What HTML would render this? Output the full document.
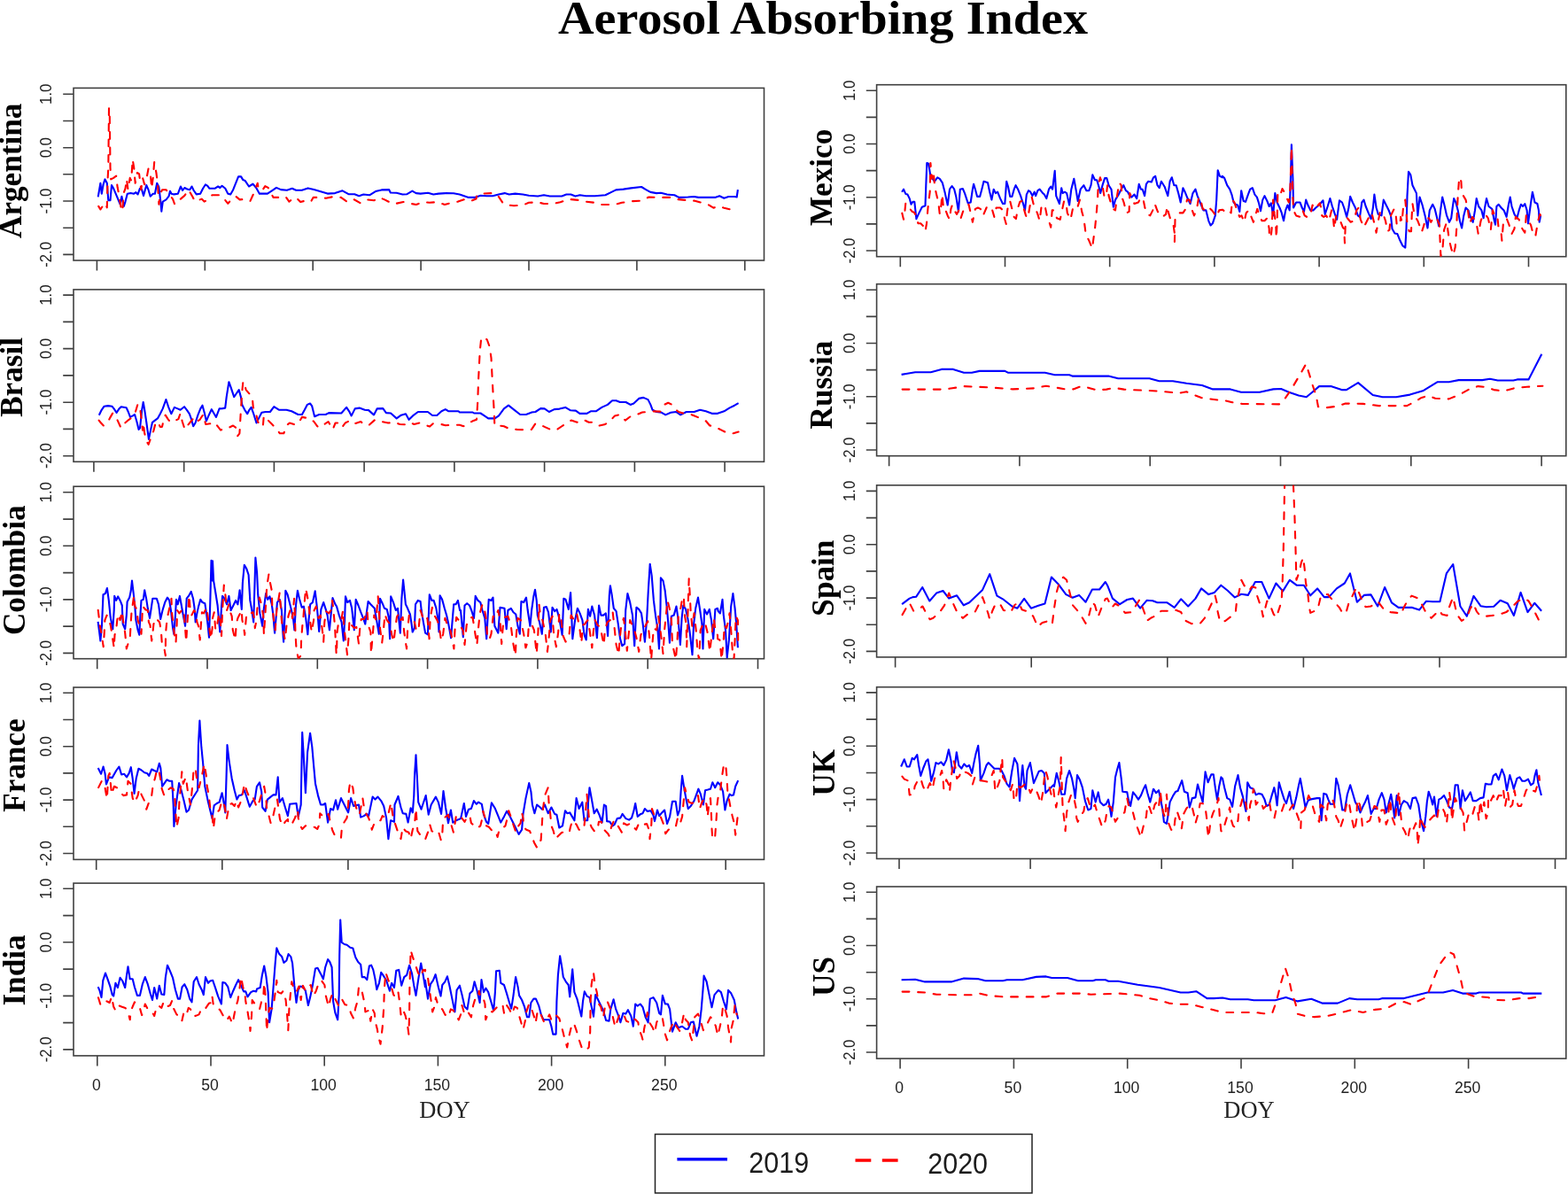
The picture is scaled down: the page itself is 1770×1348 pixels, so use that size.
<!DOCTYPE html>
<html lang="en">
<head>
<meta charset="utf-8">
<title>Aerosol Absorbing Index</title>
<style>
html,body{margin:0;padding:0;background:#fff;}
body{width:1770px;height:1348px;overflow:hidden;}
svg{display:block;}
.ax{stroke:#404040;stroke-width:1.6;fill:none;}
.tk{font-family:"Liberation Sans",Arial,sans-serif;font-size:16.7px;fill:#222;}
.tx{font-family:"Liberation Sans",Arial,sans-serif;font-size:17.6px;fill:#222;}
.cn{font-family:"Liberation Serif","Times New Roman",serif;font-weight:bold;font-size:35.2px;fill:#000;}
.ti{font-family:"Liberation Serif","Times New Roman",serif;font-weight:bold;font-size:52.3px;fill:#000;}
.doy{font-family:"Liberation Serif","Times New Roman",serif;font-size:26.5px;fill:#222;}
.lg{font-family:"Liberation Sans",Arial,sans-serif;font-size:33.2px;fill:#1c1c1c;}
.b{stroke:#0000ff;stroke-width:2.1;fill:none;stroke-linejoin:round;stroke-linecap:butt;}
.r{stroke:#ff0000;stroke-width:2.1;fill:none;stroke-linejoin:round;stroke-linecap:round;stroke-dasharray:7.8 9.8;stroke-dashoffset:-1;}
</style>
</head>
<body>
<svg width="1770" height="1348" viewBox="0 0 1770 1348">
<defs><filter id="soft" x="0" y="0" width="1770" height="1348" filterUnits="userSpaceOnUse" color-interpolation-filters="sRGB"><feGaussianBlur stdDeviation="0.45"/></filter></defs>
<rect x="0" y="0" width="1770" height="1348" fill="#ffffff"/>
<g filter="url(#soft)">
<text class="ti" x="929" y="38" text-anchor="middle" textLength="598" lengthAdjust="spacingAndGlyphs">Aerosol Absorbing Index</text>
<g>
<clipPath id="cArgentina"><rect x="83" y="99.4" width="779.5" height="194.6"/></clipPath>
<rect class="ax" x="83" y="99.4" width="779.5" height="194.6"/>
<path class="ax" d="M71.2 106.3H83M71.2 136.5H83M71.2 166.7H83M71.2 196.8H83M71.2 227H83M71.2 257.2H83M71.2 287.4H83M109.4 294V305.5M231.3 294V305.5M353.2 294V305.5M475.1 294V305.5M597 294V305.5M718.9 294V305.5M840.8 294V305.5"/>
<text class="tk" text-anchor="middle" transform="translate(58 106.3) scale(1.14 1) rotate(-90)">1.0</text>
<text class="tk" text-anchor="middle" transform="translate(58 166.7) scale(1.14 1) rotate(-90)">0.0</text>
<text class="tk" text-anchor="middle" transform="translate(58 227) scale(1.14 1) rotate(-90)">-1.0</text>
<text class="tk" text-anchor="middle" transform="translate(58 287.4) scale(1.14 1) rotate(-90)">-2.0</text>
<text class="cn" text-anchor="middle" transform="translate(24.4 192.8) rotate(-90)">Argentina</text>
<polyline class="b" clip-path="url(#cArgentina)" points="110.7,222.4 113.4,206.8 114.8,218.7 116.6,208.3 118.5,202.4 120.8,206.8 122.3,226.1 124.5,226.1 126,209.1 128.2,212.8 131.9,221.7 135.6,230.6 137.4,221.7 139.8,232.8 141.5,227.6 143.8,218.7 147.5,218 151.2,218.7 153.4,217.2 155.6,219.4 157.9,212.8 160.1,214.2 162,220.9 165.3,209.1 167.5,214.2 169.7,221.7 172.7,218.7 174.9,218.7 177.2,206.8 179.4,211.3 181.3,227.6 182.3,238.7 183.8,227.6 187.5,225.4 190.5,221.7 192,215.7 193.5,218.7 196.4,219.4 200.9,218.7 203.9,210.5 206.1,215 208.3,212 211.3,213.5 214.2,214.2 216.5,210.5 218.7,215 221.7,219.4 226.1,218.7 229.1,212.8 232,208.3 234.3,209.8 236.5,212.8 242.4,212.8 246.1,210.5 248.4,212 250.6,209.8 254.3,212.8 257.3,218.7 260.2,219.4 263.2,214.2 269.1,199.4 272.1,199.4 274.3,203.1 276.6,203.9 281,210.5 285.5,207.6 289.2,212 292.9,218.7 293.4,218.6 301.9,218.6 306.9,215.3 312,211.9 317.1,214.1 323.9,214.7 329.8,212.7 334.1,214.7 340.8,214.7 347.6,212.4 354.4,214.1 361.2,216.1 369.7,218.6 378.1,218.1 386.6,215.3 393.4,219.2 400.2,219.2 405.3,221.2 410.3,219.5 417.1,220.3 423.9,216.1 430.7,214.4 439.2,214.1 440.8,217.5 447.6,217.8 454.4,219.5 459.5,219.2 465.4,215.6 469.7,218.1 474.7,218.6 483.2,217.8 489.2,219.5 495.1,218.6 503.6,218.1 512,218.3 518.8,219.5 523.9,221.2 529,222.9 535.8,222.9 542.5,220.8 549.3,221.2 556.1,221.2 562.9,219.5 569.7,218.1 574.7,219.5 581.5,218.6 590.2,219.5 596.9,220.8 607.1,221.5 613.9,220.3 620.7,221.5 634.2,221.5 639.3,219.5 644.4,219.5 649.5,221.5 654.6,220.3 661.4,221.2 671.5,221.2 683.4,220.3 690.2,216.9 695.3,214.4 703.7,213.6 712.2,212.4 724.1,211 729.2,214.1 734.2,216.9 741,218.1 746.1,217.8 752.9,219.5 761.4,220.3 766.4,222.9 776.6,222.5 783.4,222 788.5,222.9 807.1,222.9 812.2,221.2 817.3,223.7 822.4,222 829.2,222 831.7,222.5 832.9,214.1"/>
<polyline class="r" clip-path="url(#cArgentina)" points="110.7,232 113.4,236.5 116.3,232 118.5,229.1 120.8,234.3 121.5,203.9 122.3,189 123,122.3 123.7,122.3 124.5,189 125.2,202.4 128.2,200.9 131.2,198.7 132.6,211.3 134.1,218.7 136.4,233.5 138.3,238.7 139.3,218.7 141.5,212.8 143,202.4 144.5,214.2 146.7,200.9 148.2,203.9 149.7,180.1 151.2,189 152.7,206.8 154.9,195 157.1,196.4 159.3,214.2 161.1,200.9 163.1,208.3 165.3,202.4 167.5,190.5 169.7,195 171.2,212.8 172.7,200.9 174.2,183.1 176.4,195 177.9,206.8 179.4,230.6 180.9,218.7 183.1,214.2 187.5,214.2 190.5,218.7 195,224.6 197.2,230.6 200.9,229.1 203.9,224.6 208.3,220.9 212.8,214.2 217.2,221.7 220.2,227.6 227.6,224.6 230.6,227.6 233.5,226.1 239.5,220.2 248.4,220.2 254.3,226.1 257.3,229.8 261.7,224.6 266.2,221.7 270.6,225.4 278,224.6 282.5,226.9 286.9,217.2 290.7,206.8 291.7,212.7 295.9,215.3 299.3,210.2 302.7,211.9 306.1,218.6 308.6,222.9 314.6,222.9 319.7,224.6 323.1,222.9 326.4,227.6 332.4,222.9 335.8,224.6 339.2,228 345.9,226.3 351,227.6 353.6,222.9 360.3,222.9 368,223.7 376.4,222 384.9,222.9 391.7,227.6 398.5,224.6 406.9,229.3 414.6,225.4 422.2,226.3 428.1,222.9 434.1,225.4 439.2,228 443.4,227.6 447.6,229.7 455.3,228 462.9,229.7 469.7,231 478.1,228 484.9,228.8 493.4,228 501.9,231 510.3,228.8 517.1,227.6 525.6,224.6 532.4,226.6 537.5,224.6 538.3,220.3 545.9,218.6 554.4,218.1 561.2,219.5 568,229.7 574.7,231.7 580,232.2 590.2,231.7 596.9,228.8 607.1,228.3 613.9,230 624.1,230 632.5,228.3 642.7,224.9 652.9,225.9 661.4,227.6 671.5,228.8 678.3,231 693.6,231 702,228.8 713.9,227.1 724.1,226.6 732.5,222.5 742.7,222.9 756.3,222.9 763.1,224.9 773.2,225.9 783.4,226.6 791.9,228.8 798.6,230.5 805.4,234.7 810.5,232.7 817.3,234.7 824.1,236.4 832.9,236.1"/>
</g>
<g>
<clipPath id="cBrasil"><rect x="83" y="326.9" width="779.5" height="194.4"/></clipPath>
<rect class="ax" x="83" y="326.9" width="779.5" height="194.4"/>
<path class="ax" d="M71.2 333.1H83M71.2 363.4H83M71.2 393.6H83M71.2 423.9H83M71.2 454.2H83M71.2 484.4H83M71.2 514.7H83M105.9 521.3V532.8M207.7 521.3V532.8M309.4 521.3V532.8M411.1 521.3V532.8M512.9 521.3V532.8M614.6 521.3V532.8M716.4 521.3V532.8M818.1 521.3V532.8"/>
<text class="tk" text-anchor="middle" transform="translate(58 333.1) scale(1.14 1) rotate(-90)">1.0</text>
<text class="tk" text-anchor="middle" transform="translate(58 393.6) scale(1.14 1) rotate(-90)">0.0</text>
<text class="tk" text-anchor="middle" transform="translate(58 454.2) scale(1.14 1) rotate(-90)">-1.0</text>
<text class="tk" text-anchor="middle" transform="translate(58 514.7) scale(1.14 1) rotate(-90)">-2.0</text>
<text class="cn" text-anchor="middle" transform="translate(25.2 425.9) rotate(-90)">Brasil</text>
<polyline class="b" clip-path="url(#cBrasil)" points="111.8,468.7 114.7,462.8 117.6,458.7 122,458.1 126.4,458.7 128.6,461.4 131.6,465.8 134.5,461.4 136.7,459.2 142.6,460.2 144.8,465 147,470.9 149.9,469.4 152.1,468 154.4,476 156.6,484.9 158,483.4 160.2,462.8 161.7,454 163.2,462.8 165.4,477.5 167.9,495.9 170.2,484.9 172,476.8 174.9,474.6 177.9,472.4 180.8,467.2 183.7,461.4 187.4,451.1 190.3,459.9 193.3,467.2 196.9,459.9 200.6,461.4 203.6,462.8 208,459.2 210.9,462.8 213.8,467.2 216,473.1 218.2,481.2 220.5,477.5 223.4,468.7 226.3,461.4 228.5,457.7 230.7,465.8 232.9,475.3 235.1,470.2 238.8,462.1 241.8,467.2 244,470.9 247.6,461.4 251.3,461.1 254.2,460.6 255.7,448.1 258.4,431.2 260.8,437.9 264.2,448.1 266.7,444.5 269.7,440.1 271.9,448.1 273.3,456.9 276.3,462.8 279.2,467.2 281.4,462.8 283.6,459.9 285.8,465.8 289.5,477.5 292.4,471.6 295.4,465.8 299.8,465 304.9,465 309.3,459.2 315.2,462.8 323.3,462.8 329.2,464.3 336.5,468 340.9,468 343.8,462.8 346.8,456.9 350,455.5 352.2,458.4 355.1,470.2 360.3,468 367.6,468 371.3,466.1 385.3,466.5 391.1,459.9 394.1,464.3 396.7,469.4 400.7,461.4 405.8,460.6 411.7,462.8 416.1,463.1 422,468.4 425.6,461.4 432.3,461.1 435.9,466.1 441.1,466.5 447.7,472.4 452.8,468.7 458,467.2 461.6,473.8 466,469.4 471.9,465 482.9,465 488.1,469 493.2,469 498.4,464.3 502.8,462.1 506.4,464.3 517.5,464.3 518.9,465.5 533.6,465.5 535.1,466.5 542.4,466.5 546.8,469.4 551.2,472.4 558.6,472.4 563,469.4 568.9,461.4 574,457.7 580.6,462.8 587.2,468 593.8,468 599.7,465.8 600,465.5 604.4,465 610.3,461.1 614.7,461.4 619.8,465 625.7,462.1 631.6,461.6 638.2,459.9 644.1,463.3 649.9,463.6 654.4,466.9 662.4,466.9 666.8,464.3 672.7,464.3 679.3,459.9 685.9,456.9 691.1,452.2 695.5,452.2 699.9,454 706.5,454 711.6,456.9 715.3,455.5 721.2,449.9 726.3,448.9 731.5,451.1 734.4,456.9 736.6,462.8 741,465 746.9,465.8 751.3,468.4 757.2,465.8 763.1,465 768.2,468.4 774.8,465 783.6,465 790.2,462.8 796.8,464.3 804.2,466.9 809.3,466.9 817.4,464.3 823.3,460.6 829.2,457.7 833.6,455.2"/>
<polyline class="r" clip-path="url(#cBrasil)" points="111,473.8 114,477.5 116.9,480.5 122,476 124.2,471.6 127.2,466.5 129.4,468.7 132.3,473.8 136.7,483.4 141.1,477.5 145.5,473.8 149.9,470.9 152.9,465 155.5,456.2 158,459.9 159.5,471.6 161,485.6 161.7,477.5 163.2,489.3 165.4,498.1 167.6,501.8 170.5,493.7 173.4,486.3 175.6,477.5 177.9,476 180.8,481.9 183,481.9 185.2,471.6 186.7,468.7 189.6,473.1 192.5,476.8 196.9,475.3 201.4,473.1 203.6,466.5 205.8,476 208.7,484.9 211.6,480.5 215.3,476 219,471.6 221.9,476 225.6,473.8 229.3,468 232.2,479 238.1,478.2 242.5,476.8 246.2,481.9 249.1,485.6 252.8,484.1 258.6,482.7 263.1,480.5 266,482.7 268.2,492.2 270.4,489.3 271.1,477.5 271.9,462.8 273.3,442.3 274.4,430.5 276.3,434.9 277.7,440.1 282.1,445.2 284.8,448.1 285.8,459.9 288.8,465.8 291,476 293.9,480.5 296.8,481.9 297.6,471.6 300.5,469.4 302.7,474.6 307.1,479 311.5,483.4 315.9,489.3 320.3,489.3 323.3,480.5 326.9,477.5 333.6,479.7 338,476 340.9,470.9 349.7,472.4 350,472.4 354.4,476 358.1,481.2 360.3,482.7 364,480.5 370.6,476 375.7,484.9 378.6,477.5 382.3,477.5 386,482.7 389.7,477.5 395.5,474.6 400.7,478.2 407.3,476 411,479.7 416.8,479.7 423.4,473.8 430.8,476 438.1,477.5 445.5,476.8 451.4,479 457.2,479.3 462.4,476.8 467.5,479 473.4,477.5 477.8,479 485.1,481.6 488.8,478.2 496.9,478.7 502.8,480.2 511.6,479.7 518.9,479.7 523.3,481.2 527.7,478.7 533.6,475.3 538,473.8 539.2,454 540.2,426.1 541.7,396.7 543.2,382 546.8,380.6 549.8,383.5 552.7,391.6 554.5,404.1 555.6,426.1 556.8,448.1 557.9,467.2 558.3,480.5 563,480.5 568.9,481.2 574.7,484.1 583.6,484.9 590.9,485.2 598.2,484.9 600,484.9 604.4,478.2 608.8,479 614.7,481.9 621.3,484.9 627.9,485.6 635.3,480.5 644.8,474.6 651.4,476.8 658.8,473.8 664.6,476.8 670.5,476.8 676.4,480.5 682.3,479.3 688.1,476 694,469.4 699.9,468 705.8,474.6 711.6,470.2 717.5,468.7 724.9,465.5 730.7,465 736.6,464.3 745.4,464.6 749.8,456.9 754.2,454.7 758.6,456.9 761.6,461.4 766,465 771.1,466.5 776.3,466.5 782.1,468.7 791,472.4 796.8,475.3 801.2,480.5 805.6,481.2 810.1,483.4 814.5,485.6 821.8,489.3 827.7,489.3 833.6,487.5"/>
</g>
<g>
<clipPath id="cColombia"><rect x="83" y="549.2" width="779.5" height="194.5"/></clipPath>
<rect class="ax" x="83" y="549.2" width="779.5" height="194.5"/>
<path class="ax" d="M71.2 555.8H83M71.2 586.1H83M71.2 616.3H83M71.2 646.6H83M71.2 676.9H83M71.2 707.1H83M71.2 737.4H83M109.7 743.7V755.2M234 743.7V755.2M358.3 743.7V755.2M482.6 743.7V755.2M606.9 743.7V755.2M731.2 743.7V755.2M855.5 743.7V755.2"/>
<text class="tk" text-anchor="middle" transform="translate(58 555.8) scale(1.14 1) rotate(-90)">1.0</text>
<text class="tk" text-anchor="middle" transform="translate(58 616.3) scale(1.14 1) rotate(-90)">0.0</text>
<text class="tk" text-anchor="middle" transform="translate(58 676.9) scale(1.14 1) rotate(-90)">-1.0</text>
<text class="tk" text-anchor="middle" transform="translate(58 737.4) scale(1.14 1) rotate(-90)">-2.0</text>
<text class="cn" text-anchor="middle" transform="translate(28.1 643.8) rotate(-90)">Colombia</text>
<polyline class="b" clip-path="url(#cColombia)" points="110.6,701.8 112,712.4 113.4,723.5 115,705.7 116.5,671.2 118.9,670.1 120.9,664 122.8,677.9 124.7,696.8 127.3,710.2 128.7,689 129.2,672.9 131.2,677.9 133.2,673.4 135.6,677.9 137.8,683.5 138.7,704.6 141.2,710.2 142.8,694.6 143.6,679.6 146.2,674.6 147.8,666.8 149,655.6 150.6,669 152.3,684.6 153.4,700.1 155.6,711.3 157.3,716.8 158.4,694.6 159.5,677.9 161.8,676.8 163.2,666.2 165.1,675.7 166.8,686.8 169,697.9 170.7,686.8 172.3,675.7 176.8,675.7 179,682.3 181.2,699 183.5,689 186.2,680.1 189,674.6 191.2,677.9 192.9,689 195.1,709.1 196.3,715.7 197.9,695.7 199,676.8 200.7,682.3 202.9,672.9 204.6,682.3 206.8,694.6 209.1,706.8 210.7,675.7 212.9,672.9 215.7,667.9 218,675.7 219.6,686.8 220.7,702.4 222.4,692.4 224.1,684.6 226.3,676.8 228.5,680.1 231.3,681.2 233,692.4 234.6,705.7 236,719.6 237.4,675.7 238.5,632.8 240,655.6 240,633.4 241.1,655.6 243.3,669 245.6,683.5 248.3,713.5 250,685.7 251.1,672.9 253.4,675.7 256.1,682.3 258.4,672.9 260.6,689 263.4,683.5 266.1,677.9 268.4,682.3 270.6,666.2 272.8,687.9 273.9,657.9 275.8,637.8 278.4,642.3 280.6,649 282.3,677.9 284.3,689 286.2,702.4 287.3,666.8 288.4,629.5 290.1,646.7 291.2,671.2 293.4,692.4 296.2,706.8 297.9,686.8 300.1,670.1 302.3,676.8 304.5,673.4 306.8,682.3 308.4,694.6 310.1,714.6 311.8,694.6 312.9,680.1 315.7,676.8 317.9,689 319,709.1 320.1,724.6 321.8,689 322.3,666.8 324.6,671.2 326.8,680.1 329,689 331.2,700.1 332.4,711.3 334,683.5 335.9,666.8 337.9,675.7 340.7,685.7 342.9,684.6 345.2,697.9 347.4,716.3 348.5,700.1 350.2,682.3 352.9,680.1 355.7,667.3 358,686.8 360.2,712.9 362.4,687.9 365.2,680.1 367.4,686.8 369.6,694.6 371.9,711.3 373.5,694.6 375.5,675.1 378.5,682.3 380,684.6 382.8,694.6 385.6,702.4 387.8,723.5 389.1,700.1 390,673.4 392.2,680.1 395,677.9 397.2,686.8 399.8,711.3 401.7,676.8 404.5,683.5 407.3,691.2 410,697.9 412.3,704.6 413.9,691.2 415.6,679 418.4,682.3 420.6,684.6 422.8,686.8 425.1,700.1 427.8,715.7 429,675.7 431.7,681.2 434,686.8 436.8,687.9 439,697.9 440.1,721.3 441.2,673.4 444,680.1 446.8,689 449,686.8 451.8,714.6 453.4,675.7 455.1,654.5 456.8,671.2 457.9,682.3 460.1,686.8 462.9,693.5 464.6,704.6 465.7,713.5 467.9,709.1 469,682.3 471.8,677.9 474.6,679 475.7,689 477.9,702.4 480.1,714.6 482.9,716.3 484,691.2 484.8,671.2 487.4,677.9 489.6,677.9 492.4,686.8 494.6,700.1 495.5,713.5 496.6,672.3 499.1,676.8 501.8,686.8 504.1,694.6 506.3,704.6 509.1,720.2 510.7,700.1 512.2,682.3 514.6,682.3 516.9,677.9 519.1,689 520,689 522.8,719.1 524.5,683.5 527.2,681.2 530,683.5 532.2,689 535,697.9 536.7,672.9 539.5,677.9 542.3,680.1 544.5,689 547.3,697.9 549.2,721.3 551.7,676.8 554.5,677.9 556.5,674.6 558.4,706.8 562.3,714.6 564.5,685.7 566.7,686.2 569.5,686.8 571.7,710.2 573.4,689 576.8,686.8 579.5,691.2 582.3,693.5 584.5,706.8 586.8,715.7 588.4,679 591.2,680.1 594,674.6 595.7,689 598.4,706.8 600.1,689 602.3,673.4 604,665.7 605.7,677.9 606.8,694.6 609,702.4 611.8,715.7 614,685.7 616.8,685.1 619,691.2 621.8,713.5 623.5,685.7 626.3,690.1 628.5,687.9 631.3,697.9 634.6,716.8 636.3,675.7 638.5,676.8 641.8,687.9 644.1,669 645.2,694.6 646.3,721.3 649.1,700.1 651.9,686.8 654.6,692.4 657.4,700.1 659.1,713.5 660,718 661.7,722.4 663.9,687.9 666.1,695.7 668.3,684.6 671.1,694.6 673.9,720.2 676.1,683.5 678.4,694.6 681.1,694.6 683.9,692.4 686.1,718 687.8,672.3 688.9,661.2 690.6,671.2 692.8,686.8 695.6,690.1 697.8,704.6 700.1,721.3 702.3,729.1 705.1,726.9 706.2,689 708.4,670.1 711.2,680.1 714,694.6 716.2,729.1 718.4,685.7 721.2,687.9 724,692.4 725.7,704.6 727.9,724.6 730.1,700.1 731.8,666.8 733.7,636.7 735.7,650.1 737.9,677.9 740.1,695.7 742.3,709.1 744,732.4 745.5,686.8 745.9,652.3 748.5,655.6 750.7,666.8 752.9,686.8 754.6,706.8 755.9,725.7 757.9,695.7 760.7,694.6 763.5,684.6 765.7,700.1 767.9,728 769.6,697.9 771.3,683.5 774.1,687.9 776.3,697.9 778.5,712.4 781.5,739.1 783,705.7 785.2,686.8 788,674.6 790.2,689 792.4,704.6 793.5,732.4 795.2,687.9 798,693.5 800.8,687.9 803,700.1 805.2,721.3 807.4,687.9 810,686.8 810.7,690.1 812.9,692.4 815.5,676.8 816.8,694.6 819,711.3 820.7,742.4 822.9,722.4 825.2,684.6 827.4,670.1 829.6,686.8 831.3,705.7 832.9,731.3"/>
<polyline class="r" clip-path="url(#cColombia)" points="110.6,687.9 111.7,696.8 112.8,706.8 114.5,714.6 116.7,730.2 117.8,713.5 118.4,700.1 120.6,694.6 122.8,699 125,706.8 126.7,718 128.7,731.3 129.5,716.8 131.2,710.2 132.3,700.1 133.4,693.5 135.6,700.1 137.8,690.1 138.9,700.1 141.2,714.6 142.8,732.4 144.5,726.9 146.7,721.3 147.6,704.6 148.4,692.4 151.2,672.3 152.3,684.6 154.5,687.9 155.6,700.1 157.3,705.7 159.5,715.7 160.6,693.5 161.2,684.6 164.5,688.5 166.8,689 167.9,702.4 169.5,705.7 171.2,723.5 172.3,715.7 173.4,704.6 175.7,697.9 177.9,700.1 180.1,702.4 181.8,711.3 182.9,728 185.7,733.5 186.8,740.2 187,715.7 187.9,705.7 189,696.8 191.2,686.8 193.5,675.7 194,691.2 194.6,696.8 195.7,706.8 196.8,715.7 198.5,725.7 199.6,704.6 200.1,689 202.4,692.4 205.2,689 207.4,687.9 208.5,702.4 210.2,724.6 211.3,705.7 212.4,689 213.5,672.3 214.6,686.8 216.3,694.6 219.1,689 221.3,692.4 222.4,702.4 224.1,706.8 225.7,722.4 226.9,704.6 228,691.2 230.2,692.4 233,685.7 234.6,695.7 236.3,709.1 238,721.3 239.7,709.1 240,697.9 241.7,691.2 243.3,711.3 245,706.8 247.2,692.4 248.9,702.4 250,718 251.1,689 252.8,660.6 254.5,672.3 256.1,689 258.4,682.3 260,691.2 261.7,695.7 262.8,711.3 265.6,722.4 266.7,704.6 268.4,697.9 270.6,693.5 272.8,689 273.4,700.1 275.1,706.8 276.2,716.8 277.8,697.9 278.9,692.4 282.3,692.9 285.6,691.2 287.3,700.1 287.8,709.1 289.5,700.1 290.6,684.6 292.9,674.6 295.1,682.3 297.3,695.7 297.9,716.8 299.5,692.4 301.2,662.3 303.4,648.4 304.5,655.6 306.8,666.8 307.3,684.6 309,700.1 310.7,711.3 312.3,689 315.7,669 316.8,684.6 317.9,700.1 319,709.1 321.8,722.4 323.5,705.7 325.7,694.6 327.9,687.9 330.1,697.9 332.1,675.7 332.9,694.6 333.5,715.7 334.6,733.5 336.8,743.5 339.6,740.2 340.1,722.4 341.3,706.8 342.4,697.9 343.5,682.3 345.2,664.5 347.4,675.7 349.1,689 350.2,702.4 351.8,713.5 354.1,700.1 354.6,689 356.8,684.6 359.6,697.9 361.8,694.6 364.1,713.5 365.2,724.6 366.3,702.4 368,690.1 371.3,692.4 373.5,689 375.2,677.9 376.9,694.6 378,706.8 379.7,739.1 380,738 380.6,713.5 382.2,702.4 385,701.3 387.2,689 388.3,706.8 390.6,726.9 392,739.1 393.4,721.3 394.5,700.1 396.7,705.7 400,709.1 402.3,707.9 405,726.9 406.1,711.3 407.8,699 411.2,699 414.5,689 415.6,705.7 418.4,713.5 418.9,738 421.2,711.3 422.3,694.6 424.5,700.1 426.7,673.4 429,709.1 431.2,725.7 432.9,711.3 434.5,693.5 436.8,700.1 440.1,704.6 442.3,716.8 444.5,724.6 446.2,709.1 447.9,696.8 450.1,692.4 452.3,700.1 454.6,696.8 456.2,713.5 459,732.4 460.1,711.3 461.8,694.6 464.6,697.9 467.9,702.4 470.1,712.4 472.4,711.3 474.6,689 476.8,695.7 479.6,701.3 482.4,697.9 484.6,721.3 485.7,697.9 487.9,685.7 490.2,694.6 493.5,700.1 495.7,706.8 498,723.5 500.2,715.7 502.4,697.9 504.6,704.6 507.4,706.8 510.2,720.2 512.4,732.4 513.5,711.3 515.2,696.8 518.5,701.3 520,706.8 522.8,712.4 524.5,728 526.7,705.7 530,697.9 533.4,696.8 535,705.7 536.1,713.5 538.4,728 540,709.1 541.7,692.4 544.5,682.3 546.7,686.8 548.9,700.1 550,716.8 552.3,722.4 554.5,715.7 556.7,695.7 558.9,697.9 562.3,689 564.5,700.1 566.2,726.9 567.8,706.8 570.1,696.8 573.4,695.7 576.8,706.8 579,724.6 581.8,740.2 582.9,715.7 584.5,697.9 587.9,700.1 591.2,715.7 593.4,731.3 595.7,724.6 596.8,706.8 600.1,704.6 602.9,711.3 605.7,738 607.4,714.6 608.5,682.3 610.1,695.7 612.4,700.1 615.7,715.7 617.9,735.8 619.6,720.2 621.3,700.1 623.5,695.7 625.2,716.8 627.9,730.2 630.2,713.5 631.3,692.4 633.5,700.1 635.7,718 638.5,724.6 642.4,718 644.6,694.6 648,700.1 651.3,693.5 654.6,711.3 656.3,725.7 658,705.7 660,704.6 663.3,700.1 665.6,711.3 668.3,731.3 670,711.3 671.7,700.1 674.5,705.7 677.8,707.9 680,720.2 681.7,728 682.8,711.3 685.6,702.4 688.9,700.1 691.7,691.2 693.4,706.8 695.6,728 698.4,739.1 699.5,722.4 701.2,706.8 704,697.9 705.6,711.3 707.8,734.6 709.5,718 711.2,700.1 714,706.8 716.2,711.3 719,722.4 721.2,735.8 723.4,716.8 725.7,710.2 728.4,706.8 731.2,701.3 732.9,716.8 735.1,744.7 736.8,722.4 737.9,709.1 741.2,711.3 743.2,695.7 745.1,709.1 746.8,722.4 748.5,738 750.1,711.3 751.8,694.6 753.5,677.9 755.7,686.8 757.9,700.1 759,726.9 762.9,744.7 764.6,722.4 765.7,695.7 768.5,685.7 770.2,675.7 771.8,673.4 772.9,694.6 774.6,704.6 775.2,730.2 776.3,700.1 776.8,680.1 777.7,653.4 778.8,672.3 779.6,689 781.3,706.8 783.5,692.4 785.7,711.3 787.4,734.6 789.1,744.7 790.7,711.3 793.5,704.6 795.8,702.4 798.5,713.5 801.3,735.8 803.5,715.7 805.8,697.9 808,715.7 810,716.8 810.1,721.3 812.4,722.4 814.6,744.7 816.8,722.4 817.9,705.7 820.1,709.1 822.4,700.1 823.5,692.4 825.2,711.3 826.8,733.5 828.5,744.7 829.6,722.4 830.7,695.7 832.9,700.1 833.1,711.3 833.2,729.1"/>
</g>
<g>
<clipPath id="cFrance"><rect x="83" y="776" width="779.5" height="194.4"/></clipPath>
<rect class="ax" x="83" y="776" width="779.5" height="194.4"/>
<path class="ax" d="M71.2 782.3H83M71.2 812.5H83M71.2 842.7H83M71.2 872.9H83M71.2 903.1H83M71.2 933.3H83M71.2 963.5H83M108.7 970.4V981.9M250.8 970.4V981.9M392.9 970.4V981.9M535 970.4V981.9M677.1 970.4V981.9M819.2 970.4V981.9"/>
<text class="tk" text-anchor="middle" transform="translate(58 782.3) scale(1.14 1) rotate(-90)">1.0</text>
<text class="tk" text-anchor="middle" transform="translate(58 842.7) scale(1.14 1) rotate(-90)">0.0</text>
<text class="tk" text-anchor="middle" transform="translate(58 903.1) scale(1.14 1) rotate(-90)">-1.0</text>
<text class="tk" text-anchor="middle" transform="translate(58 963.5) scale(1.14 1) rotate(-90)">-2.0</text>
<text class="cn" text-anchor="middle" transform="translate(28.1 864.1) rotate(-90)">France</text>
<polyline class="b" clip-path="url(#cFrance)" points="110.7,867 114.1,873.7 116.6,865.5 118.5,872.9 120,885.5 123,877.4 126.7,878.1 131.2,870 134.4,865.5 137.1,874.4 140.1,873.7 143,877.4 145.7,872.9 147.8,866.2 149.7,878.9 151.6,895.9 153.7,878.9 156.4,867.7 159.3,869.2 163.1,872.2 166,872.9 168.2,875.9 171.2,868.5 174.2,870 177.2,871.4 179.8,861.8 181.3,867 183.1,887.8 188.3,880.3 191.2,881.8 194.2,881.8 195.7,908.5 196.4,933 198.7,908.5 202.1,884.1 204.6,892.2 207.6,904.1 210.5,916.7 213.1,914.5 216.5,902.6 220.2,896.7 223.1,892.2 223.9,841.8 225.4,813.6 227.3,843.2 229.1,861.1 231.3,887.8 235,905.6 237.2,914.5 239.5,924.1 241.7,909.3 244.7,907 247.6,905.6 250.6,895.2 252.8,907 254.3,917.4 255.5,878.9 256.5,841 258.5,858.1 261.7,878.9 264.7,892.2 267.4,902.6 269.9,898.1 272.8,897.4 275.8,892.2 278.8,901.1 281.8,910.8 285.5,904.1 287.7,902.6 289.9,887.8 290,887.8 293,883.3 295.2,893.7 296.2,911.5 299.6,915.9 301.9,902.6 305.6,899.6 308.5,897.4 311.5,897.4 313.7,877.4 315.5,905.6 318.9,901.1 321.9,911.5 324.9,921.1 327.1,907.8 334.5,907 336.7,921.9 339.7,908.5 340.4,868.5 341.2,826.9 342.7,852.2 344.9,895.2 347.1,849.2 350.1,827.7 352.3,843.2 354.1,864 356,884.8 359,898.1 362,908.5 364.9,908.5 367.2,907 370.1,928.6 373.1,913 376.1,914.5 379,903.3 381.2,913.7 385,901.1 387.9,907 390.9,913 393.1,917.4 396.1,901.1 399.1,910 402,909.3 405,908.5 407.2,922.6 410.9,921.1 413.9,918.9 416.1,921.1 420.6,899.6 423.5,902.6 426.5,899.6 430.2,904.1 433.2,910 436.1,923.4 438.4,947.1 441,926.3 445,927.8 445.5,908.5 449.5,898.9 452.5,911.5 454.7,918.2 458.4,918.9 460.6,928.6 463.6,912.2 465.8,917.4 467.3,898.1 468,875.9 469.5,852.2 471,880.3 472.2,905.6 475.5,913.7 477.7,907 480.7,898.1 483.7,919.7 486.7,908.5 491.9,899.6 494.8,905.6 498.1,918.9 500.5,893 503,911.5 506,929.3 508.9,914.5 511.2,928.6 514.9,926.3 520.1,924.1 523.8,907 526,921.9 529,913.7 531.9,913 534.9,904.1 537.9,907.8 540.1,905.6 543.8,907.8 546,919.7 549,927.8 551.2,930 554.9,906.3 558.6,912.2 562.3,921.1 565.3,928.6 569,921.9 572,915.9 575,920.4 578.7,927.8 582.4,935.2 585.6,941.9 589.1,936.7 590.5,918.9 593.5,901.1 597.2,884.1 599.4,893.7 600.9,908.5 603.4,918.2 606.1,908.5 609.8,911.5 612,913.7 615,908.5 618.7,918.2 622.4,911.5 626.1,918.9 628.4,919.7 631.3,934.5 635,932.3 638,915.2 640.2,918.2 643.2,917.4 645.4,921.1 648.4,926.3 650.6,901.1 653.6,913 657.3,905.6 659.5,926.3 663.2,926.3 664,905.6 665.5,889.2 667.7,901.1 670.7,918.2 673.7,913.7 676.7,920.4 679.6,928.6 681.9,908.5 684.1,910 685.1,927.1 688.5,927.8 691.5,932.3 693.7,930.8 696.7,924.1 700.4,923.4 702.6,918.9 706.4,924.1 710.1,925.6 713,923.4 715.3,915.9 717.2,907 719.7,921.9 723.4,918.9 725.6,918.2 727.9,913 730.8,915.9 734.5,915.2 737.5,920.4 739,927.1 742,914.5 744.2,921.1 747.2,917.4 750.1,914.5 753.1,930 756.1,921.9 759,904.8 762.7,904.8 765,920.4 767.2,914.5 768.7,892.2 770.1,875.9 772.4,890.7 774.6,902.6 776.8,913 779.8,910 783.5,904.1 785.7,898.1 788.4,890.7 790.9,896.7 793.9,908.5 796.1,892.2 799.1,891.5 802,890.7 804.3,883.3 807.2,889.2 810.2,883.3 813.2,886.3 816.1,893.7 818.4,914.5 820.6,904.1 823.6,896.7 825.8,898.1 828,897.4 830.2,887.8 833.2,881.1"/>
<polyline class="r" clip-path="url(#cFrance)" points="110.7,890 114.8,881.8 117.8,884.8 119.3,893.7 120.8,901.9 122.3,875.9 123.7,872.9 125.2,887.8 126,896.7 128.9,887.8 131.9,889.2 134.9,893.7 139.3,898.1 143,897.4 144.5,881.8 147.5,884.8 149.7,901.1 151.9,906.3 155.6,898.1 157.1,890.7 160.1,898.1 163.8,905.6 165.3,913.7 168.2,905.6 171.2,898.1 172.7,886.3 174.9,878.9 177.2,868.5 179.4,870 181.3,880.3 182.3,889.2 185.3,898.1 189,892.2 192.7,889.2 195.7,890.7 197.2,898.1 197.9,911.5 199.4,933.8 201.6,923.4 202.4,905.6 203.9,889.2 205.3,871.4 206.8,884.8 209.8,877.4 212,893.7 215,908.5 217.2,887.8 218.7,867 220.9,870 222.4,881.8 224.6,889.2 227.6,877.4 230.6,862.5 232.8,875.9 233.5,886.3 235.8,898.1 237.2,911.5 239.5,920.4 240.9,935.2 242.4,923.4 244.7,917.4 247.6,914.5 250.6,904.1 253.6,910 255.8,924.9 258.8,908.5 261.7,907 264.7,910 266.9,904.1 269.1,911.5 272.8,902.6 275.8,884.8 278.8,893.7 281.8,901.1 285.5,899.6 287.7,905.6 289.9,911.5 290,911.5 293,904.1 295.2,896.7 298.2,887.8 300.4,901.1 301.1,914.5 303.4,920.4 305.6,929.3 308.5,920.4 310.8,910 313,902.6 314.5,914.5 316,924.9 318.9,932.3 321.9,927.8 324.9,924.9 325.6,930.8 329.3,930.8 333,923.4 336,914.5 336.7,923.4 339,932.3 341.2,936 344.9,932.3 349.3,933.8 355.3,933.8 358.2,936 360.5,930.8 361.2,918.2 364.2,921.1 367.2,923.4 370.9,918.9 373.1,929.3 375.3,937.5 379,945.6 385,945.6 385.7,936.7 387.9,929.3 391.6,923.4 393.1,908.5 393.9,892.2 395.3,882.6 398.3,889.2 399.8,901.1 401.3,908.5 403.5,917.4 405.7,919.7 408,908.5 409.4,901.1 410.9,911.5 413.1,918.2 416.1,923.4 418.3,929.3 419.8,936.7 422,930.8 425,926.3 429.5,926.3 431.7,921.1 435.4,923.4 438.4,918.9 441.3,906.3 443.6,921.9 445.8,929.3 448.8,938.2 452.5,947.1 454.7,933.8 457.7,938.2 461.4,939.7 463.6,947.1 465.8,936.7 468,930.8 469.5,913 471.3,938.2 475.5,944.1 479.2,947.8 480,947.8 483,939.7 485.2,930.8 487.4,938.2 490.4,939.7 494.8,938.2 497.8,948.6 499.3,941.2 500,927.8 501.5,923.4 506,919.7 507.4,926.3 509.7,932.3 511.9,939.7 513.4,930.8 514.9,921.1 518.6,919.7 522.3,924.9 524.5,927.8 527.5,921.9 530.4,921.1 531.9,929.3 535.6,932.3 538.6,935.2 542.3,932.3 544.5,923.4 545.3,915.9 547.5,923.4 549,932.3 552,933.8 555.7,938.2 559.4,938.2 561.6,944.9 563.8,936 566.8,935.2 570.5,932.3 572.7,923.4 574.2,915.2 577.2,923.4 579.4,930.8 582.4,939.7 585.3,932.3 587.6,929.3 589.1,917.4 590.5,923.4 591.3,933.8 594.2,936.7 598,938.2 600.9,945.6 603.1,951.6 606.1,956.8 608.3,950.1 610.6,948.6 611.8,930.8 612.8,914.5 615,898.1 618.7,889.2 619.5,905.6 620.9,915.9 622.4,932.3 624.7,938.2 626.9,947.1 629.9,944.1 634.3,939.7 638,939.7 642.5,940.4 643.9,933.8 646.2,926.3 650.6,930.8 653.6,936.7 657.3,937.5 659.5,932.3 661,917.4 662.5,896.7 664,913 665.2,927.8 667.7,933.8 670.7,938.2 674.5,937.5 675.9,927.8 678.9,927.8 680.4,935.2 683.4,938.2 686.3,941.2 687.8,944.1 690,933.8 693,926.3 696.7,930.8 699.7,936 701.9,939.7 704.1,929.3 707.8,931.5 712.3,929.3 715.3,933.8 718.2,936.7 721.2,929.3 724.9,931.5 730.1,930 733.1,938.2 733.5,947.1 735.3,930.8 736,913 738.2,919.7 741.2,918.9 745.7,921.9 748.6,929.3 751.3,941.2 754.6,936.7 759,935.2 762.7,933.8 765,923.4 767.9,929.3 770.1,921.9 771.6,905.6 773.1,889.2 775.3,898.1 777.6,905.6 781.3,907 785,904.1 788,898.1 789.9,913 792.4,905.6 795.4,901.1 797.6,908.5 798.8,921.9 800.6,904.1 802,901.1 802.8,915.9 803.5,935.2 804.3,947.8 807.2,944.1 808.7,923.4 809.5,908.5 810.9,898.1 813.2,892.2 814.7,878.9 816.9,864 819.1,862.5 820.6,878.9 821.3,893.7 824.3,910 826.5,920.4 828.8,929.3 830.2,942.7 832.5,923.4 833.2,917.4"/>
</g>
<g>
<clipPath id="cIndia"><rect x="83" y="997.1" width="779.5" height="194.8"/></clipPath>
<rect class="ax" x="83" y="997.1" width="779.5" height="194.8"/>
<path class="ax" d="M71.2 1003.3H83M71.2 1033.6H83M71.2 1063.8H83M71.2 1094.1H83M71.2 1124.4H83M71.2 1154.6H83M71.2 1184.9H83M109.8 1191.9V1203.4M238 1191.9V1203.4M366.2 1191.9V1203.4M494.4 1191.9V1203.4M622.6 1191.9V1203.4M750.8 1191.9V1203.4"/>
<text class="tk" text-anchor="middle" transform="translate(58 1003.3) scale(1.14 1) rotate(-90)">1.0</text>
<text class="tk" text-anchor="middle" transform="translate(58 1063.8) scale(1.14 1) rotate(-90)">0.0</text>
<text class="tk" text-anchor="middle" transform="translate(58 1124.4) scale(1.14 1) rotate(-90)">-1.0</text>
<text class="tk" text-anchor="middle" transform="translate(58 1184.9) scale(1.14 1) rotate(-90)">-2.0</text>
<text class="cn" text-anchor="middle" transform="translate(28.1 1095.5) rotate(-90)">India</text>
<text class="tx" text-anchor="middle" x="108.8" y="1230.6">0</text>
<text class="tx" text-anchor="middle" x="237" y="1230.6">50</text>
<text class="tx" text-anchor="middle" x="365.2" y="1230.6">100</text>
<text class="tx" text-anchor="middle" x="493.4" y="1230.6">150</text>
<text class="tx" text-anchor="middle" x="621.6" y="1230.6">200</text>
<text class="tx" text-anchor="middle" x="749.8" y="1230.6">250</text>
<text class="doy" text-anchor="middle" x="502" y="1262.3">DOY</text>
<polyline class="b" clip-path="url(#cIndia)" points="110.7,1114.2 112.6,1118.7 114.5,1126.1 116.3,1106.8 119,1098.6 121.5,1105.3 124.5,1114.2 126.7,1123.1 128.2,1124.6 130.4,1109.8 132.9,1115 135.6,1103.8 138.3,1107.5 141.2,1115 143,1100.9 144.5,1091.2 146.7,1105.3 149.7,1105.3 151.9,1114.2 154.9,1123.9 157.9,1123.9 160.8,1111.2 163.8,1103.1 166.8,1111.2 169.7,1121.6 172,1129 174.2,1115 177.2,1127.6 179.8,1112.7 182.3,1122.4 185.3,1123.1 186.8,1103.8 189,1089.7 192,1096.4 195,1103.8 197.9,1117.2 200.9,1127.6 203.1,1127.6 205.6,1114.2 208.3,1111.2 211.3,1117.2 214.2,1127.6 216.5,1131.3 218.7,1108.3 222,1103.1 224.6,1111.2 227.6,1117.2 229.8,1123.1 232,1103.1 235,1109.8 237.2,1107.5 240.2,1106.8 243.2,1115.7 246.1,1124.6 249.9,1133.5 251.3,1109 254.3,1109.8 257.3,1114.2 260.2,1126.1 263.2,1118.7 266.2,1112 269.1,1106.1 272.8,1114.2 275.1,1119.4 277.3,1119.4 279.5,1125.3 283.2,1120.1 286.2,1118.7 289.2,1119.4 290,1116.4 293.7,1115 295.9,1100.9 298.2,1090.5 300.4,1102.3 302.6,1120.1 304.1,1154.3 306.6,1139.4 308.5,1115.7 310.8,1086 312.3,1070.4 315.2,1077.1 318.2,1080.1 320.4,1086.8 323.4,1084.5 325.6,1077.1 328.3,1080.1 330.1,1087.5 332.3,1112.7 334.5,1132 336.7,1117.2 339,1113.5 341.9,1114.2 344.9,1118.7 347.9,1135 350.1,1126.1 353.1,1111.2 356,1093.4 358.5,1092.7 362,1099.4 364.9,1105.3 367.2,1092 370.1,1083.1 372.3,1086 374.6,1092 376.1,1130.5 378.3,1143.1 381.2,1151.3 382.7,1123.1 383.2,1078.6 384.2,1038.5 385.7,1063.8 388.7,1066 391.6,1066.7 395.3,1069.7 398.3,1070.4 401.3,1080.8 404.2,1086 407.2,1089 408.7,1103.1 411.7,1103.1 414.3,1106.1 416.9,1090.5 419.1,1089.7 421.3,1094.9 423.5,1105.3 425.3,1117.2 428,1109.8 430.2,1097.9 432.4,1100.9 436.1,1106.8 439.9,1118.7 442.1,1109.8 445,1115 447.3,1095.7 450.2,1094.9 453.2,1112.7 456.2,1103.1 459.1,1100.9 462.1,1089.7 465.1,1099.4 467.3,1112.7 469.5,1123.9 472.5,1103.8 475.2,1087.5 477.7,1100.9 479.9,1114.2 480,1106.8 483,1127.6 485.9,1111.2 488.9,1106.8 491.6,1100.1 494.8,1114.2 497.5,1124.6 499.3,1112 502.3,1108.3 504.9,1102.3 507.4,1112.7 510.4,1127.6 513.4,1142.4 515.6,1117.9 518.9,1112.7 521.5,1123.1 524.5,1136.5 527.5,1139.4 530.4,1121.6 533.4,1118.7 535.6,1108.3 538.6,1118.7 541.6,1132 543.5,1106.1 546,1120.1 548.5,1115.7 551.2,1120.1 554.2,1130.5 557.2,1140.9 558.9,1120.1 560.1,1096.4 563.8,1095.7 565.3,1109.8 569,1112 572,1121.6 575,1132 577.2,1138.7 579.4,1124.6 582.1,1103.1 584.6,1114.2 586.1,1123.9 589.1,1129 592,1136.5 595,1148.3 597.2,1148.3 599.4,1132 602.4,1127.6 604.9,1127.6 608.3,1135.7 610.6,1144.6 613.5,1151.3 620.2,1151.3 622.4,1158.7 624.2,1167.6 627.6,1167.6 628.4,1130.5 629.9,1100.9 632.1,1079.3 634.3,1092 635.8,1103.1 638.8,1108.3 641.7,1112 643.2,1125.3 646.2,1094.2 648.4,1120.1 651.4,1127.6 653.6,1136.5 656.3,1147.6 658,1130.5 659.8,1119.4 662.5,1124.6 665.5,1126.1 667.7,1136.5 669.9,1146.9 670,1147.6 672.2,1123.1 674.5,1127.6 677.4,1133.5 681.1,1140.9 684.1,1152 687.5,1152.8 689.3,1139.4 692.6,1128.3 695.2,1139.4 698.2,1146.9 700.4,1154.3 703.4,1143.9 706.4,1144.6 708.9,1140.2 712.3,1146.9 714.8,1158.7 717.2,1133.5 719.7,1135.7 722.7,1133.5 725.6,1137.2 728.6,1148.3 731.6,1154.3 733.8,1127.6 737.5,1126.1 741.2,1132 744.2,1143.9 746,1145.4 747.9,1123.9 750.9,1133.5 753.8,1133.5 756.1,1139.4 759,1164.7 762.7,1154.3 765.7,1160.2 770.1,1158.7 773.9,1161.7 776.8,1161.7 779.8,1154.3 782.8,1153.5 786.5,1169.8 789.4,1158.7 791.7,1139.4 793.4,1118.7 794.6,1101.6 797.6,1108.3 800.6,1123.1 803.5,1137.2 806.5,1123.1 810.9,1117.9 813.9,1120.1 816.9,1130.5 819.9,1139.4 822.1,1117.9 825,1120.9 828.8,1129 831,1140.9 833.2,1150.6"/>
<polyline class="r" clip-path="url(#cIndia)" points="110.7,1125.3 113.4,1134.2 116.3,1133.5 118.5,1129.8 120.8,1130.5 123.7,1132 126,1125.3 128.2,1136.5 130.4,1140.9 133.4,1135 137.1,1136.5 141.5,1137.9 144.5,1142.4 146.7,1151.3 147.5,1142.4 149.7,1136.5 151.9,1131.3 154.9,1135 157.9,1137.9 160.1,1146.1 162.3,1139.4 163.8,1133.5 166.8,1139.4 171.2,1141.7 174.2,1146.9 176.4,1137.9 178.6,1135 182.3,1137.9 184.6,1131.3 188.3,1136.5 192,1135 194.2,1129.8 195.7,1137.9 199.4,1145.4 202.4,1146.9 205.3,1152.8 207.6,1142.4 210.5,1145.4 212.8,1137.9 215,1139.4 218,1146.9 220.9,1146.9 224.6,1145.4 227.6,1138.7 231.3,1139.4 235.8,1132.8 238.7,1132 239.5,1124.6 240.9,1135 244.7,1137.2 248.4,1140.2 252.8,1148.3 255.8,1152 258.8,1147.6 262.5,1155.8 263.9,1148.3 266.2,1136.5 268.4,1129.8 269.9,1120.1 272.1,1103.1 274.3,1114.2 276.6,1123.1 277.3,1130.5 278.8,1137.9 280.3,1146.9 281.8,1155.8 282.5,1163.9 284,1146.9 284.7,1129 287.7,1133.5 289.9,1135 290,1135 293,1139.4 295.2,1130.5 297.4,1123.1 298.2,1109.8 299.6,1124.6 300.4,1143.9 301.1,1163.9 302.6,1146.9 304.1,1137.9 307.1,1138.7 308.5,1136.5 310.8,1120.1 312.3,1106.8 313.7,1120.1 317.4,1121.6 319.7,1118.7 322.6,1129 324.1,1145.4 325.3,1163.2 326.4,1139.4 327.8,1123.1 329.3,1108.3 331.5,1115.7 334.5,1120.1 337.5,1113.5 339.7,1129 341.9,1112.7 344.9,1118.7 347.9,1114.2 350.8,1112 352.3,1118.7 353.8,1124.6 356.8,1118.7 359.7,1109.8 362.7,1106.8 366.4,1112 367.9,1124.6 370.9,1136.5 373.1,1127.6 375.3,1121.6 379,1129 382,1135 385.7,1127.6 389.4,1134.2 393.1,1135 396.1,1143.9 399.1,1149.8 401.3,1137.9 403.5,1130.5 405,1114.2 408,1115.7 409.4,1123.1 411.7,1133.5 412.4,1142.4 416.1,1140.9 418.3,1152.8 420.6,1139.4 422.8,1143.9 423.5,1152.8 425.8,1161.7 427.2,1170.6 429.5,1178.8 431.7,1160.2 433.2,1137.9 433.9,1115.7 435.4,1097.9 438.4,1106.8 441.3,1112.7 444.3,1123.1 446.5,1126.1 449.5,1120.1 451,1130.5 452.5,1145.4 454.7,1139.4 457.7,1146.9 459.9,1156.5 461.4,1167.6 462.1,1145.4 462.4,1115.7 463.6,1072.7 465.8,1080.1 468.8,1089 471.8,1097.9 474.7,1103.1 477.7,1094.9 479.9,1096.4 480,1094.9 483,1103.8 485.2,1120.1 486.7,1130.5 488.2,1142.4 490.4,1136.5 491.9,1126.1 494.1,1133.5 496.3,1137.9 499.3,1139.4 502.3,1145.4 506,1148.3 508.9,1139.4 511.9,1140.9 514.9,1146.9 517.8,1151.3 520.1,1145.4 521.5,1135 524.5,1145.4 528.2,1142.4 531.9,1148.3 534.2,1135 536.4,1127.6 539.3,1127.6 540.8,1118.7 542.3,1126.1 545.3,1126.1 547.5,1133.5 548.2,1151.3 552,1141.7 555.7,1142.4 560.1,1137.9 564.6,1133.5 567.5,1135 569,1143.9 572,1135 575,1139.4 577.9,1145.4 580.9,1136.5 583.9,1137.9 586.1,1146.9 589.1,1157.2 590.5,1162.4 592.8,1152.8 594.2,1142.4 597.2,1133.5 600.2,1139.4 603.1,1148.3 604.6,1155 606.9,1140.9 610.6,1145.4 614.3,1154.3 617.2,1151.3 620.2,1145.4 622.4,1151.3 626.9,1145.4 631.3,1149.8 634.3,1160.2 636.5,1169.1 640.2,1182.5 642.5,1169.1 644.7,1160.2 647.7,1155 650.6,1163.2 653.6,1173.6 656.6,1182.5 661,1186.2 664.7,1182.5 666.2,1164.7 666.6,1130.5 667.7,1111.2 669.9,1097.9 670,1097.9 671.5,1111.2 673.7,1120.1 675.9,1133.5 678.2,1136.5 681.1,1148.3 683.4,1133.5 685.6,1130.5 688.5,1137.9 691.5,1146.9 694.5,1159.5 696.7,1152.8 699.7,1143.9 704.1,1145.4 707.1,1152.8 710.8,1154.3 714.5,1149.8 717.5,1151.3 720.4,1154.3 721.2,1161.7 724.2,1169.1 725.6,1174.3 727.1,1161.7 728.6,1154.3 730.8,1143.1 733.1,1154.3 736.8,1160.2 739,1166.1 741.2,1154.3 744.2,1148.3 747.9,1149.8 749.4,1158.7 750.9,1167.6 753.1,1174.3 755.3,1166.1 757.5,1160.2 760.5,1152.8 763.5,1158.7 767.2,1163.9 770.1,1154.3 772.1,1143.9 773.9,1151.3 776.8,1154.3 779.1,1169.1 781.3,1175 782.8,1161.7 784.2,1148.3 788,1144.6 790.9,1152.8 793.9,1163.2 796.1,1160.2 799.1,1154.3 802,1148.3 805,1151.3 808,1158.7 810.2,1169.1 812.4,1160.2 814.7,1149.8 816.1,1135 818.4,1139.4 820.6,1146.9 822.1,1160.2 825,1176.5 825.8,1160.2 827.6,1152.8 829.5,1135 831.7,1145.4"/>
</g>
<g>
<clipPath id="cMexico"><rect x="989.6" y="95.7" width="778.2" height="194"/></clipPath>
<rect class="ax" x="989.6" y="95.7" width="778.2" height="194"/>
<path class="ax" d="M977.8 102.3H989.6M977.8 132.4H989.6M977.8 162.5H989.6M977.8 192.6H989.6M977.8 222.8H989.6M977.8 252.9H989.6M977.8 283H989.6M1016.3 289.7V301.2M1134.5 289.7V301.2M1252.7 289.7V301.2M1370.9 289.7V301.2M1489.1 289.7V301.2M1607.3 289.7V301.2M1725.5 289.7V301.2"/>
<text class="tk" text-anchor="middle" transform="translate(965 102.3) scale(1.14 1) rotate(-90)">1.0</text>
<text class="tk" text-anchor="middle" transform="translate(965 162.5) scale(1.14 1) rotate(-90)">0.0</text>
<text class="tk" text-anchor="middle" transform="translate(965 222.8) scale(1.14 1) rotate(-90)">-1.0</text>
<text class="tk" text-anchor="middle" transform="translate(965 283) scale(1.14 1) rotate(-90)">-2.0</text>
<text class="cn" text-anchor="middle" transform="translate(939 200.4) rotate(-90)">Mexico</text>
<polyline class="b" clip-path="url(#cMexico)" points="1018.1,216.7 1020,213.7 1022.3,218.9 1024.5,219.6 1026.7,224.1 1028.5,230.8 1030.4,227.8 1032.3,227.8 1034.4,247.1 1037.1,241.1 1040.8,233.7 1044.5,232.2 1045.3,209.2 1046.3,184 1048.2,184.8 1050.4,198.9 1052.2,201.1 1054.9,204.8 1058.2,200.3 1060.8,201.8 1063.8,206.3 1066.8,218.1 1069.7,231.5 1072,213.7 1074.6,210 1077.2,213.7 1079.4,222.6 1081.9,238.9 1083.8,213.7 1086.8,213 1089,218.1 1092.7,229.3 1095.7,228.5 1097.9,213.7 1099.1,207.8 1100.9,213.7 1103.1,221.9 1106.1,221.9 1108.3,213.7 1110.5,204.8 1112.8,205.5 1115,206.3 1117.2,216.7 1119.4,225.6 1121.7,213.7 1123.9,218.1 1126.1,216.7 1129.1,224.1 1132,230 1134.3,230 1136.2,204.8 1138,210.7 1140.2,221.9 1142.4,221.9 1144.7,213.7 1146.6,209.2 1149.1,213.7 1152.1,221.1 1155,230 1157,237.4 1158.8,219.6 1161,215.2 1163.2,216.7 1165.4,221.1 1167.7,216.7 1169.1,221.1 1171.4,215.2 1173.6,213.7 1176.6,217.4 1178.8,219.6 1181.3,224.1 1184,213.7 1186.2,210.7 1188.1,213.7 1190.7,192.9 1192.2,221.1 1195.9,230 1198.2,212.2 1199.6,218.1 1201.9,216.7 1204.1,218.1 1207.1,231.5 1209.3,213.7 1212.3,201.8 1214.5,213.7 1216.7,227 1219.7,213.7 1223.4,209.2 1226.4,215.2 1229.3,215.2 1231.5,209.2 1233.3,197.4 1236,203.3 1238.2,203.3 1240.4,210.7 1242.2,218.1 1244.9,207.8 1247.1,201.1 1249.3,201.1 1251.6,209.2 1254.5,213.7 1256.8,233.7 1259,225.6 1262.7,219.6 1265.7,213.7 1268.3,209.2 1270.9,215.2 1273.1,216.7 1275.3,221.1 1277.5,222.6 1280.5,219.6 1283.2,224.1 1285.7,207.8 1287.9,213.7 1289.7,213.7 1292.1,221.1 1293.9,207.8 1296.1,204.8 1299.8,205.5 1302,200.3 1304.2,198.9 1306.5,209.2 1308.7,212.2 1310.9,204.8 1314.6,210.7 1318.3,221.1 1320.6,204.8 1322.8,200.3 1325.3,209.2 1327.7,209.2 1330.2,218.1 1332.7,228.5 1335.4,212.2 1337.6,216.7 1340.6,224.1 1343.6,230 1346.5,218.1 1349.5,213.7 1351.7,221.1 1354.7,228.5 1358.4,237.4 1361.4,237.4 1364.3,249.3 1366.6,254.5 1368.8,252.3 1371.8,243.4 1373.2,225.6 1374.7,192.2 1376.9,198.9 1379.9,200.3 1380,198.9 1382.2,201.1 1385.2,209.2 1388.2,213.7 1390.4,219.6 1392.6,228.5 1394.8,230.8 1397.1,231.5 1399.3,238.9 1401.2,215.2 1403.7,227 1406,227.8 1408.9,219.6 1411.2,213.7 1413.8,212.2 1416.4,219.6 1418.9,222.6 1421.2,230 1423,238.2 1425.3,225.6 1427.5,221.1 1430.4,227 1432.7,233 1434.9,229.3 1437.1,243.4 1439.3,218.1 1441.6,228.5 1444.5,234.5 1446.8,240.4 1449,249.3 1451.2,237.4 1453.4,231.5 1455.7,237.4 1456.9,201.8 1457.9,163.2 1459.4,201.8 1460.1,234.5 1463.1,228.5 1467.5,228.5 1469.8,234.5 1472,238.9 1474.2,225.6 1476.4,231.5 1479.4,237.4 1482.4,237.4 1485.3,234.5 1489.1,231.5 1493.5,226.3 1495.7,241.9 1498.7,233 1501.4,224.1 1503.9,233 1506.9,241.9 1509.1,247.8 1512,226.3 1515,228.5 1517.2,234.5 1520.2,244.9 1522.4,234.5 1524.2,221.9 1526.9,228.5 1529.9,234.5 1532.8,243.4 1535,244.9 1537.3,228.5 1539.5,225.6 1541.7,233 1544.7,240.4 1547.7,247.1 1549.9,234.5 1551.4,219.6 1553.6,234.5 1555.8,241.9 1559.5,243.4 1561.8,225.6 1564.7,231.5 1567.7,237.4 1569.9,243.4 1570,243.4 1571.5,258.2 1574.5,263.4 1577.4,264.1 1580.4,271.6 1583.4,277.5 1586.3,279.7 1587.5,258.2 1588.5,221.1 1590,193.7 1592.3,197.4 1594.5,209.2 1596.7,213.7 1598.9,218.1 1600.4,243.4 1602.6,222.6 1605.6,231.5 1608.6,243.4 1611.5,257.5 1613.8,237.4 1617.2,230.8 1619.7,235.9 1621.9,244.9 1624.2,255.2 1626.1,237.4 1628.2,222.6 1630.8,233 1633.1,243.4 1636,250.8 1638.2,246.3 1639.7,234.5 1641.2,224.1 1643.4,228.5 1645.7,237.4 1647.9,249.3 1650.1,257.5 1652.3,243.4 1654.6,234.5 1657.5,237.4 1659.8,244.9 1662.7,250.8 1665,237.4 1666.7,224.1 1669.1,233 1672.4,237.4 1674.6,246.3 1676.1,234.5 1678,224.1 1680.5,233 1684.2,235.9 1686.5,247.8 1688,253.8 1689.4,233 1691.7,230.8 1694.6,234.5 1697.6,237.4 1700.6,244.9 1702.8,231.5 1704.7,222.6 1706.5,233 1709.5,241.9 1712.4,246.3 1714.7,237.4 1716.9,230.8 1719.1,233 1721.3,230 1723.6,237.4 1725,252.3 1727.3,234.5 1729.9,216.7 1732.5,228.5 1735.4,230 1736.9,237.4 1737.7,250.8 1739.1,243.4"/>
<polyline class="r" clip-path="url(#cMexico)" points="1018.1,239.7 1020,247.8 1021.5,237.4 1022.3,229.3 1024.5,233 1026.7,235.2 1029.7,238.9 1031.9,239.7 1034.1,243.4 1036.4,252.3 1039.3,252.3 1042.3,255.2 1044.5,261.2 1046,252.3 1047.5,234.5 1049.7,216.7 1050.4,184 1051.9,201.8 1053.7,193.7 1055.2,210.7 1057.1,219.6 1059.3,228.5 1060.8,241.9 1062.3,233 1063.5,219.6 1065.3,237.4 1067.5,237.4 1069.7,243.4 1072,247.8 1073.4,235.9 1074.9,231.5 1077.2,237.4 1080.1,241.9 1082.3,237.4 1084.6,246.3 1087.5,237.4 1090.5,233 1093.5,230.8 1095.7,240.4 1097.9,250.8 1100.9,235.9 1103.9,234.5 1106.8,235.9 1109.8,243.4 1114.2,233 1117.2,237.4 1120.2,237.4 1122.4,244.9 1124.6,234.5 1129.1,234.5 1132,237.4 1134.3,247.8 1135.8,253 1136.8,240.4 1138,231.5 1140.2,227 1142.4,235.9 1144.7,244.9 1146.9,247.1 1149.1,234.5 1151.3,227.8 1153.6,227 1155.8,235.9 1158,243.4 1160.2,246.3 1162.5,233 1164.7,222.6 1166.9,231.5 1169.1,235.9 1171.4,241.9 1173.6,249.3 1175.8,231.5 1179.5,232.2 1181.8,243.4 1184,249.3 1186.2,256.7 1187.7,237.4 1190,237.4 1193,246.3 1196.7,247.8 1198.9,237.4 1201.1,227 1203.4,228.5 1204.8,240.4 1208.5,247.8 1211.5,233 1213.7,231.5 1216.7,233 1218.9,225.6 1221.2,238.9 1223.4,246.3 1224.9,258.2 1225.6,264.1 1229.3,271.6 1233,280.5 1234.5,268.6 1236,258.2 1237.5,243.4 1239,225.6 1239.7,209.2 1241.9,200.3 1244.2,207.8 1246.4,221.1 1248.6,222.6 1250.1,209.2 1251.6,221.1 1253.8,228.5 1256.8,235.9 1259,237.4 1261.2,219.6 1263.4,206.3 1265.7,209.2 1266.4,222.6 1268.6,228.5 1271.6,240.4 1274.6,238.9 1275.3,218.1 1277.5,222.6 1280.5,230 1285,228.5 1287.9,222.6 1290.9,227 1292.4,234.5 1295.3,241.9 1298.3,243.4 1301.3,237.4 1303.5,230 1305.7,235.9 1308.7,243.4 1313.1,244.1 1316.1,241.9 1317.6,233 1319.1,240.4 1321.3,247.8 1324.3,252.3 1325.8,262.7 1325.9,273 1326.5,247.8 1330.9,240.4 1335.4,240.4 1338.4,235.9 1339.9,225.6 1342.8,225.6 1345.8,237.4 1348,243.4 1351,235.9 1353.2,222.6 1355.4,225.6 1357.7,235.9 1360.6,237.4 1364.3,233.7 1368,237.4 1370.3,240.4 1373.2,244.9 1376.2,237.4 1380,236.7 1383,238.9 1386.7,236.7 1389.6,240.4 1391.1,225.6 1393.4,228.5 1396.3,237.4 1399.3,244.9 1401.5,243.4 1404.5,250.8 1406.7,240.4 1409.7,237.4 1411.9,243.4 1414.9,250.8 1417.1,243.4 1419.3,235.9 1421.5,243.4 1424.5,249.3 1427.5,249.3 1430.4,246.3 1432.7,258.2 1432.8,262.7 1434.6,268.6 1435.6,258.2 1437.1,225.6 1438.6,241.9 1440.1,252.3 1440.8,268.6 1441.6,250.8 1442.3,219.6 1444.5,222.6 1447.5,213 1450.5,218.1 1452.7,224.1 1454.9,228.5 1456.4,213.7 1457.9,166.2 1459.4,222.6 1460.1,237.4 1463.1,243.4 1467.5,244.9 1470.5,237.4 1472.7,243.4 1476.4,245.6 1479.4,241.9 1481.6,231.5 1483.9,235.9 1486.8,233 1489.8,229.3 1492,237.4 1492.2,243.4 1494.2,244.9 1497.2,243.4 1500.2,249.3 1503.1,237.4 1504.6,243.4 1506.1,258.2 1508.3,243.4 1510.6,246.3 1513.5,250.8 1515.8,256.7 1517.2,258.2 1518,274.5 1518.7,255.2 1520.9,246.3 1524.7,250.8 1528.4,249.3 1531.3,237.4 1533.6,234.5 1535.8,247.8 1539.5,256.7 1543.2,249.3 1546.2,243.4 1548.4,240.4 1551.4,252.3 1553.6,262.7 1555.8,249.3 1558,238.9 1561,240.4 1564,249.3 1566.2,261.2 1568.4,259.7 1570,243.4 1573.7,235.9 1575.9,244.9 1576.7,253.8 1580.4,253.8 1581.1,244.9 1582.6,250.8 1584.1,233 1586.3,225.6 1587.8,243.4 1588.5,252.3 1590.8,261.2 1593,261.2 1593.7,243.4 1594.5,230 1596.7,243.4 1600.4,249.3 1602.6,255.2 1604.9,261.9 1607.1,255.2 1609.3,246.3 1613,246.3 1615.3,250.8 1618.2,245.6 1621.9,246.3 1624.9,253.8 1625.6,271.6 1626.4,289.4 1628.6,279 1630.1,259.7 1633.1,250.8 1636,271.6 1638.2,280.5 1640.5,287.9 1642.7,279 1644.2,258.2 1644.9,237.4 1645.7,221.1 1647.2,200.3 1649.4,204.8 1650.1,218.1 1654.6,225.6 1656.8,235.9 1659,252.3 1662,244.9 1666.4,250.8 1668.7,264.1 1671.6,249.3 1673.9,243.4 1676.8,241.9 1679.8,246.3 1682.8,259.7 1685,237.4 1687.2,243.4 1690.2,243.4 1691.7,258.2 1694.6,262.7 1695.4,271.6 1696.9,252.3 1700.6,246.3 1703.5,253.8 1706.5,264.1 1709.5,258.2 1710.9,244.9 1714.7,247.8 1718.4,258.2 1721.3,262.7 1722.8,243.4 1725,249.3 1728,253.8 1729.5,259.7 1733.2,267.1 1734.7,258.2 1736.2,249.3 1738.4,241.9 1740.6,246.3"/>
</g>
<g>
<clipPath id="cRussia"><rect x="989.6" y="320.7" width="778.2" height="194"/></clipPath>
<rect class="ax" x="989.6" y="320.7" width="778.2" height="194"/>
<path class="ax" d="M977.8 327.3H989.6M977.8 357.4H989.6M977.8 387.5H989.6M977.8 417.6H989.6M977.8 447.8H989.6M977.8 477.9H989.6M977.8 508H989.6M1003.6 514.7V526.2M1150.9 514.7V526.2M1298.2 514.7V526.2M1445.5 514.7V526.2M1592.8 514.7V526.2M1740.1 514.7V526.2"/>
<text class="tk" text-anchor="middle" transform="translate(965 327.3) scale(1.14 1) rotate(-90)">1.0</text>
<text class="tk" text-anchor="middle" transform="translate(965 387.5) scale(1.14 1) rotate(-90)">0.0</text>
<text class="tk" text-anchor="middle" transform="translate(965 447.8) scale(1.14 1) rotate(-90)">-1.0</text>
<text class="tk" text-anchor="middle" transform="translate(965 508) scale(1.14 1) rotate(-90)">-2.0</text>
<text class="cn" text-anchor="middle" transform="translate(939 434.6) rotate(-90)">Russia</text>
<polyline class="b" clip-path="url(#cRussia)" points="1017.6,422.9 1024.2,421.8 1033.1,420.2 1050.7,420.2 1062.8,416.9 1076,416.9 1088.1,420.7 1096.9,420.7 1105.8,418.9 1134.4,418.9 1137.7,420.7 1179.6,420.7 1190.6,423.3 1207.1,423.3 1210.4,424.6 1251.2,424.6 1262.2,427.3 1297.5,427.3 1308.5,430.2 1323.9,430.2 1339.3,432.8 1356.9,435 1369.1,439.4 1380,439.4 1388.8,439.4 1400.9,442.7 1421.9,442.7 1437.3,439.4 1446.1,439 1454.9,442.7 1465.9,446.5 1474.7,448.2 1481.4,442.7 1489.1,436.1 1502.3,436.1 1514.4,440.1 1519.9,440.1 1533.1,432.1 1549.7,446 1560.7,448.2 1576.1,448.2 1591.5,445.6 1606.9,440.9 1622.4,431.3 1635.6,431.3 1646.6,429.1 1673.1,429.1 1681.9,427.7 1690.7,429.5 1708.3,429.5 1712.7,428.4 1725.5,428.4 1740.3,399.7"/>
<polyline class="r" clip-path="url(#cRussia)" points="1017.6,439.6 1066.1,439.6 1074.9,438.3 1088.1,436.1 1114.6,437.2 1143.2,439.4 1167.5,438.3 1180.7,435.7 1193.9,437.9 1202.7,439.4 1211.5,439.4 1220.3,436.1 1229.2,437.9 1238,440.5 1249,439.6 1257.8,437.9 1268.8,439.6 1286.4,440.5 1308.5,441.6 1330.5,443.8 1339.3,442.3 1348.1,446 1356.9,449.3 1374.6,451.5 1380,451.5 1391,454.2 1402,455.9 1443.9,456.4 1449.4,451.5 1457.1,440.5 1468.1,421.8 1474.3,410.8 1478.1,422.9 1481.4,433.9 1485.8,447.1 1488,459.2 1496.8,460.3 1510,458.6 1518.8,455.5 1538.6,455.9 1556.3,458.1 1588.2,458.1 1597,453.7 1604.7,448.9 1612.5,446.7 1620.2,449.8 1635.6,450.4 1646.6,446 1659.8,438.7 1668.6,436.1 1678.6,437.2 1686.3,440.1 1697.3,441.6 1710.5,437.9 1723.7,436.8 1741.4,435.7"/>
</g>
<g>
<clipPath id="cSpain"><rect x="989.6" y="547.8" width="778.2" height="194.1"/></clipPath>
<rect class="ax" x="989.6" y="547.8" width="778.2" height="194.1"/>
<path class="ax" d="M977.8 554.4H989.6M977.8 584.6H989.6M977.8 614.7H989.6M977.8 644.9H989.6M977.8 675.1H989.6M977.8 705.2H989.6M977.8 735.4H989.6M1010.6 741.9V753.4M1164.2 741.9V753.4M1317.8 741.9V753.4M1471.4 741.9V753.4M1625 741.9V753.4"/>
<text class="tk" text-anchor="middle" transform="translate(965 554.4) scale(1.14 1) rotate(-90)">1.0</text>
<text class="tk" text-anchor="middle" transform="translate(965 614.7) scale(1.14 1) rotate(-90)">0.0</text>
<text class="tk" text-anchor="middle" transform="translate(965 675.1) scale(1.14 1) rotate(-90)">-1.0</text>
<text class="tk" text-anchor="middle" transform="translate(965 735.4) scale(1.14 1) rotate(-90)">-2.0</text>
<text class="cn" text-anchor="middle" transform="translate(941.2 652.6) rotate(-90)">Spain</text>
<polyline class="b" clip-path="url(#cSpain)" points="1018.1,682.2 1026.7,675.6 1030.4,674.1 1034.1,673.8 1041.2,663 1049.3,678.5 1057.1,669.6 1064.5,667 1071.2,675.6 1080.1,672.3 1087.8,683.3 1094.2,680.3 1109.1,665.9 1117.2,648.1 1125.4,672.6 1132,676.3 1142.4,684.5 1148.4,686.7 1156.1,675.9 1163.9,686.7 1172.1,683.7 1179.5,681.5 1186.9,651.5 1194.4,659.2 1203.3,671.1 1210.7,674.8 1218.1,671.9 1225.5,679.7 1232.9,665.5 1241.1,665.5 1247.8,657 1250,660.7 1255.9,675.6 1264.1,682.2 1272.3,677 1278.9,675.6 1287.1,686.7 1294.5,677.8 1301.2,678.2 1306.4,680.3 1317.5,680.3 1325.7,685.9 1333.1,676.3 1341.2,684.5 1349.4,675.9 1356.1,664.4 1364.2,671.1 1370.9,668.9 1378.3,660.7 1385.8,666.7 1393.9,674.4 1401.3,670.8 1408.8,671.9 1416.9,657 1424.3,657 1432.5,675.6 1440.4,658.5 1448.1,667.4 1455.9,654.8 1463.6,660.7 1471.8,660.7 1479.2,672.3 1487.1,664.4 1494.8,674.1 1500,674.1 1508.9,664.4 1517.8,658.5 1524,647.4 1531.9,679.7 1539.8,671.9 1547.5,671.4 1555.2,684.5 1563.1,663 1570.9,680.3 1578.6,685.9 1594.2,685.9 1602.1,688.6 1609.8,678.8 1617.2,679.3 1625.4,679.3 1632.8,647.4 1640.2,637 1648.4,684.5 1655.8,695.6 1663.5,672.9 1671.4,684.2 1678,685.2 1686.2,684.8 1693.6,677.8 1701.8,681.2 1708.9,694.9 1716.6,668.9 1724.5,691.1 1732.2,680.8 1740.1,689.7"/>
<polyline class="r" clip-path="url(#cSpain)" points="1018.1,694.9 1022.3,687.4 1026.7,680.8 1031.2,689.7 1037.1,687.4 1041.5,684.5 1046,693.4 1049.7,699.3 1053.4,697.8 1060.8,691.1 1066,683.7 1071.2,669.6 1075.7,680.8 1080.1,690.4 1086.8,697.8 1093.5,692.6 1100.9,690.4 1109.1,674.1 1112,682.2 1115.7,693.4 1117.2,699.3 1120.2,689.7 1123.9,681.5 1129.1,682.2 1132.8,688.9 1140.9,691.1 1145.4,683 1149.9,680 1153.6,688.2 1161.7,691.1 1166.2,695.6 1171.4,707.5 1176.6,703 1181.8,701.5 1187.7,705.2 1189.9,687.4 1192.9,668.1 1195.8,657.8 1200.3,651.5 1204,654.8 1206.2,663.7 1209.2,675.6 1210.7,683 1215.9,688.9 1221.1,696.3 1225.5,703.8 1229.2,694.9 1232.9,680 1235.9,683 1239.6,696.3 1244.1,684.5 1247.8,676.3 1250,675.6 1255.2,685.9 1258.9,681.5 1264.1,684.5 1270,691.9 1278.2,691.1 1282.6,683 1286.4,677 1289.3,684.5 1293,694.9 1294.5,700.8 1299,697.8 1304.9,694.9 1310.8,689.7 1318.2,689.7 1325.7,688.2 1333.1,691.1 1338.3,700.8 1345,704.1 1354.6,704.1 1359.8,697.8 1364.2,688.9 1368.7,679.3 1371.7,672.6 1373.9,681.5 1374.6,690.4 1376.9,700.8 1379.1,702.6 1383.5,700.8 1390.9,694.9 1394.7,691.9 1396.1,678.5 1398.4,669.6 1401.3,654.8 1404.3,660.7 1407.3,665.2 1410.2,666.7 1413.2,662.2 1417.7,663.7 1419.1,672.6 1422.1,681.5 1424.3,688.9 1425.8,696.3 1428,687.4 1430.3,678.5 1434,683.7 1437.7,693.4 1440.7,697.1 1444.4,685.9 1446.6,678.5 1447.6,660.7 1448.8,619.2 1450.3,536.1 1459.5,536.1 1461.4,582.1 1462.5,619.2 1463.4,654.8 1466.6,645.9 1468.8,635.5 1471.1,629.6 1472.6,641.4 1474,657.8 1476.3,669.6 1477.7,684.5 1479.2,691.9 1487.4,688.2 1490.4,675.6 1493.3,671.1 1499.3,671.1 1500,672.6 1505.9,679.3 1511.9,685.9 1516.3,693.4 1520,689.7 1522.3,681.5 1526.7,672.6 1531.2,663 1534.9,671.1 1538.6,681.5 1541.5,685.2 1547.5,684.5 1555.6,679.3 1562.3,688.2 1569.7,691.1 1577.2,691.9 1581.6,693.4 1584.6,685.9 1589,677.8 1593.5,672.6 1600.9,675.6 1605.3,683 1609.8,691.9 1615.7,697.8 1621.7,691.9 1624.6,688.9 1627.6,693.4 1633.5,694.9 1635.8,685.9 1640.2,674.1 1643.2,687.4 1645.4,694.9 1649.9,700.8 1655.8,697.1 1659.5,687.4 1663.2,681.5 1666.9,690.4 1670.6,694.9 1678,695.6 1691.4,694.1 1700.3,691.1 1706.2,685.9 1713.6,678.5 1721.1,675.6 1725.5,678.5 1730.7,687.4 1735.9,697.8 1740.1,706"/>
</g>
<g>
<clipPath id="cUK"><rect x="989.6" y="775.7" width="778.2" height="193.8"/></clipPath>
<rect class="ax" x="989.6" y="775.7" width="778.2" height="193.8"/>
<path class="ax" d="M977.8 781.9H989.6M977.8 812.1H989.6M977.8 842.3H989.6M977.8 872.5H989.6M977.8 902.6H989.6M977.8 932.8H989.6M977.8 963H989.6M1015 969.5V981M1163.1 969.5V981M1311.2 969.5V981M1459.3 969.5V981M1607.4 969.5V981M1755.5 969.5V981"/>
<text class="tk" text-anchor="middle" transform="translate(965 781.9) scale(1.14 1) rotate(-90)">1.0</text>
<text class="tk" text-anchor="middle" transform="translate(965 842.3) scale(1.14 1) rotate(-90)">0.0</text>
<text class="tk" text-anchor="middle" transform="translate(965 902.6) scale(1.14 1) rotate(-90)">-1.0</text>
<text class="tk" text-anchor="middle" transform="translate(965 963) scale(1.14 1) rotate(-90)">-2.0</text>
<text class="cn" text-anchor="middle" transform="translate(941.5 872.3) rotate(-90)">UK</text>
<polyline class="b" clip-path="url(#cUK)" points="1017.1,865.5 1020.8,857.3 1023.7,865.5 1026.7,865.5 1029.7,855.9 1031.9,857.3 1035.3,852.2 1037.1,864 1039.3,875.9 1042.3,867 1045.3,859.6 1047.5,857.3 1049.7,870 1051.2,881.8 1054.2,871.4 1056.4,861.1 1059.3,862.5 1062.3,860.3 1065.3,864 1068.2,858.1 1070.9,846.2 1073.4,858.1 1074.9,870 1076.9,872.2 1079.8,849.2 1082.3,864 1085.3,867.7 1088.3,862.5 1091.2,865.5 1094.2,864 1097.2,872.9 1099.4,861.1 1101.6,850.7 1104.2,841.8 1106.1,864 1106.8,881.1 1110.5,872.9 1113.5,864 1115.7,861.1 1118.7,864 1122.4,867.7 1127.6,867.7 1130.6,870 1133.5,875.9 1136.5,884.8 1139.5,888.5 1142.4,870 1145.1,855.9 1148.4,862.5 1149.9,878.9 1151,904.1 1152.8,878.9 1154.3,864 1156.5,887.8 1158,890.7 1159.5,870 1162.9,861.1 1164.7,871.4 1166.9,884.1 1169.9,877.4 1172.8,870.7 1175.8,870 1178.8,872.9 1180.3,895.2 1183.2,892.2 1186.2,889.2 1189.2,886.3 1190,887.8 1192.7,872.9 1195.2,881.8 1198.2,896.7 1201.9,896.7 1204.1,878.9 1207.1,870 1210,878.9 1212.3,890.7 1213.7,901.1 1216,875.1 1218.9,880.3 1221.9,889.2 1224.9,904.1 1228.3,914.5 1231.5,913 1233.3,892.2 1236.7,905.6 1239.7,894.4 1241.9,905.6 1245.6,909.3 1248.6,907.8 1251.1,902.6 1253.1,913 1254.5,921.9 1256.8,905.6 1259,877.4 1261.2,868.5 1263.4,861.1 1265.7,878.9 1267.2,893.7 1272.3,894.4 1273.8,902.6 1276.1,910 1279,894.4 1282,898.1 1285,902.6 1287.9,898.1 1290.9,890.7 1293.1,886.3 1295.3,895.2 1298.3,905.6 1302,890.7 1305,895.2 1308,892.2 1310.2,902.6 1312.4,914.5 1313.9,927.8 1316.9,930 1319.1,917.4 1320.6,905.6 1324.3,898.1 1327.2,893.7 1329.5,893 1332.1,886.3 1334.2,881.1 1336.9,893.7 1340.6,895.2 1342.8,911.5 1345.8,901.1 1349.5,900.4 1352,885.5 1354.7,895.2 1357.7,905.6 1359.1,887.8 1360.6,871.4 1363.6,883.3 1367.3,874.4 1369.8,874.4 1371.8,889.2 1374,902.6 1376.2,887.8 1378.4,877.4 1380,878.9 1382.2,889.2 1385.2,901.1 1388.2,902.6 1391.1,910.8 1394.1,887.8 1397.5,875.1 1400,889.2 1403,899.6 1406.4,915.9 1408.2,883.3 1411.2,889.2 1414.9,890.7 1417.8,897.4 1420.8,895.9 1424.5,896.7 1427.5,902.6 1429.7,910 1432.7,908.5 1435.6,898.1 1438.3,889.2 1440.1,898.1 1441.6,909.3 1443.8,883.3 1446.8,893.7 1449.7,902.6 1452,907 1455.7,893.7 1457.9,905.6 1460.1,913 1463.1,901.1 1466.1,886.3 1467.8,878.9 1470.5,893.7 1473.5,911.5 1476.4,904.1 1478.7,902.6 1482.4,901.9 1486.8,901.1 1489.8,901.1 1491.6,926.3 1494.2,895.9 1497.2,896.7 1499.4,902.6 1501.7,907.8 1506.1,907.8 1508.3,878.9 1510.6,886.3 1512.8,898.1 1515.3,914.5 1518,914.5 1520.9,896.7 1524.2,886.3 1526.9,895.2 1529.9,905.6 1532.8,910 1535.5,917.4 1538,911.5 1541,905.6 1543.9,898.1 1547.7,918.9 1550.6,913 1553.6,913 1556.6,902.6 1559.8,895.2 1562.5,902.6 1564.7,917.4 1567.2,908.5 1570.2,896.7 1572.2,908.5 1574.2,923.4 1576.7,898.1 1578.9,920.4 1581.9,908.5 1584.8,904.1 1588.5,906.3 1592,913 1594.5,901.1 1598.2,900.4 1601.2,908.5 1603.4,923.4 1607.1,938.2 1609.3,921.9 1610.8,905.6 1612.7,893.7 1615.3,901.1 1617.2,908.5 1619,899.6 1621.6,921.1 1624.2,902.6 1627.1,901.1 1630.1,898.1 1633.1,904.1 1636,911.5 1639,913 1641.2,901.1 1642.7,886.3 1645.7,886.3 1647.2,898.1 1648.6,913 1650.9,892.2 1653.8,904.1 1656.8,899.6 1659.8,894.4 1662.7,904.1 1666.4,904.1 1670.9,901.1 1674.6,900.4 1676.8,884.8 1679.8,885.5 1683.5,885.5 1685.7,875.9 1688.7,873.7 1691.7,880.3 1695.4,868.5 1698.3,875.9 1700.9,892.2 1704.3,875.1 1707.2,884.8 1708.7,890.7 1712.4,878.9 1715.4,877.4 1718.4,881.8 1721.3,881.8 1725,879.6 1728,886.3 1731,884.1 1732.5,875.9 1734.4,869.2 1736.2,883.3 1739.9,898.1"/>
<polyline class="r" clip-path="url(#cUK)" points="1017.8,875.9 1020.8,879.6 1024.5,881.1 1026,890.7 1026.7,897.4 1031.2,896.7 1032.6,887.8 1036.4,880.3 1039.3,878.9 1041.5,886.3 1044.5,893.7 1047.5,889.2 1049.7,884.1 1052.7,890.7 1054.9,878.9 1057.9,875.9 1060.8,877.4 1063.1,870 1064.5,878.9 1065.3,890.7 1068.2,880.3 1071.2,886.3 1072,893.7 1073.4,878.9 1074.9,870 1076.4,858.1 1078.6,867 1080.1,878.9 1083.1,875.9 1085.3,870 1089,871.4 1092.7,872.9 1096.4,875.9 1097.9,885.5 1100.9,875.9 1103.9,878.9 1106.8,881.1 1110.5,881.8 1115,882.6 1118.7,877.4 1121.7,870 1123.4,893.7 1126.1,887.8 1128.3,881.8 1129.8,867 1131.3,855.9 1132,877.4 1135,881.8 1138.7,887.8 1140.9,892.2 1143.2,884.8 1144.7,904.1 1146.9,902.6 1148.4,884.8 1151.3,889.2 1154.3,887.8 1157.3,884.8 1161,889.2 1163.2,895.2 1166.2,889.2 1169.1,890.7 1172.1,898.1 1175.1,907 1177.3,893.7 1178.8,878.9 1180.3,870 1182.5,877.4 1184.7,889.2 1186.9,898.1 1189.2,890.7 1190,898.1 1192.2,911.5 1194.5,898.1 1196.7,887.8 1197.7,855.1 1198.2,871.4 1198.9,893.7 1199.6,911.5 1201.1,923.4 1202.6,938.2 1204.1,917.4 1206.3,905.6 1209.3,896.7 1212.3,901.1 1214.5,911.5 1215.2,923.4 1216.7,927.8 1220.4,920.4 1223.4,915.9 1224.9,905.6 1227.8,901.1 1230.1,908.5 1233,913 1236,908.5 1238.2,915.9 1241.2,924.9 1244.2,933.8 1247.9,926.3 1249.3,917.4 1251.6,910 1254.5,911.5 1256.8,920.4 1259,927.8 1262.7,921.9 1266.4,918.9 1269.4,917.4 1270.9,908.5 1272.3,901.1 1273.8,908.5 1276.1,914.5 1279,917.4 1281.2,926.3 1284.2,935.2 1286.4,941.2 1287.9,945.6 1289.4,938.2 1291.6,929.3 1293.9,921.9 1295.3,908.5 1297.6,911.5 1300.5,920.4 1303.5,908.5 1305.7,905.6 1308,911.5 1309.9,893.7 1311.4,908.5 1313.1,917.4 1315.4,923.4 1316.1,908.5 1316.9,896.7 1318.3,914.5 1319.1,929.3 1322,936.7 1325,938.2 1326.5,924.9 1328.7,915.9 1331.7,924.9 1333.9,935.2 1336.1,918.9 1339.1,913 1342.8,908.5 1345.8,911.5 1348,920.4 1349.5,929.3 1352.5,918.9 1354.7,907 1357.7,907 1360.6,911.5 1362.1,923.4 1362.8,935.2 1364.3,945.6 1366.6,926.3 1369.5,917.4 1373.2,910 1375.5,901.1 1376.9,923.4 1378.4,938.2 1380,938.9 1383,929.3 1385.2,921.9 1388.2,911.5 1389.6,924.9 1391.9,932.3 1394.8,934.5 1397.5,926.3 1398.5,914.5 1400.8,908.5 1403,899.6 1406,905.6 1408.2,917.4 1409.7,926.3 1411.2,908.5 1413.4,901.1 1414.9,890.7 1416.4,898.1 1417.8,908.5 1420.8,904.1 1423.8,905.6 1426,913 1429,910 1432.7,904.1 1434.9,917.4 1438.6,923.4 1440.8,913 1443.8,914.5 1446.8,915.9 1449.7,907.8 1452.7,910 1455.7,914.5 1459.4,908.5 1462.3,914.5 1466.1,924.9 1468.3,935.2 1469,917.4 1472.7,914.5 1475,905.6 1477.2,898.1 1480.1,904.1 1483.1,914.5 1485.3,921.9 1489.1,927.8 1490.5,908.5 1492.8,910 1495,913 1497.2,926.3 1498.7,908.5 1500.9,904.1 1503.9,901.1 1506.1,908.5 1508.3,921.9 1510.6,926.3 1512.8,935.2 1517.2,921.9 1518.7,914.5 1520.9,904.1 1523.2,908.5 1524.7,917.4 1526.1,924.9 1529.1,938.2 1531.3,924.9 1532.1,902.6 1535,908.5 1536.5,917.4 1538,933.8 1541,929.3 1546.2,926.3 1549.1,917.4 1551.4,910 1554.3,911.5 1557.3,927.8 1559.5,914.5 1562.5,914.5 1564.7,930.8 1566.9,924.9 1568.4,902.6 1569.9,908.5 1570,917.4 1572.2,924.9 1574.5,930.8 1576.7,908.5 1579.2,893 1580.4,911.5 1581.9,926.3 1583.1,933.8 1585.6,938.2 1589.3,947.1 1590.8,938.2 1592.3,932.3 1595.2,936.7 1598.2,929.3 1599.7,936.7 1600.4,954.5 1601.9,942.7 1603.4,921.9 1605.6,929.3 1608.6,933.8 1612.3,927.8 1616,923.4 1619,920.4 1621.9,926.3 1624.2,911.5 1627.9,911.5 1630.8,917.4 1633.1,929.3 1634.5,914.5 1636,893.7 1638.2,908.5 1639,926.3 1641.2,911.5 1642.7,901.1 1645.7,908.5 1648.6,911.5 1651.6,917.4 1653.1,937.5 1656.1,926.3 1658.3,917.4 1662,920.4 1665,910 1667.9,914.5 1669.4,926.3 1670.9,904.1 1673.1,917.4 1675.3,905.6 1677.6,924.1 1679.8,917.4 1680.1,899.6 1682.8,904.1 1685.7,898.1 1688.7,905.6 1691.7,898.1 1694.6,898.1 1696.9,890.7 1699.1,910 1702,893.7 1704.3,911.5 1707.2,908.5 1709.5,892.2 1711.7,904.1 1713.9,910 1716.9,910 1719.9,901.1 1722.8,892.2 1725.8,889.2 1729.5,892.2 1733.2,893.7 1735.4,886.3 1737.4,875.9 1738.4,884.8"/>
</g>
<g>
<clipPath id="cUS"><rect x="989.6" y="1001" width="778.2" height="194.1"/></clipPath>
<rect class="ax" x="989.6" y="1001" width="778.2" height="194.1"/>
<path class="ax" d="M977.8 1007.3H989.6M977.8 1037.4H989.6M977.8 1067.5H989.6M977.8 1097.7H989.6M977.8 1127.8H989.6M977.8 1157.9H989.6M977.8 1188H989.6M1016.1 1195.1V1206.6M1144.4 1195.1V1206.6M1272.7 1195.1V1206.6M1401 1195.1V1206.6M1529.3 1195.1V1206.6M1657.6 1195.1V1206.6"/>
<text class="tk" text-anchor="middle" transform="translate(965 1007.3) scale(1.14 1) rotate(-90)">1.0</text>
<text class="tk" text-anchor="middle" transform="translate(965 1067.5) scale(1.14 1) rotate(-90)">0.0</text>
<text class="tk" text-anchor="middle" transform="translate(965 1127.8) scale(1.14 1) rotate(-90)">-1.0</text>
<text class="tk" text-anchor="middle" transform="translate(965 1188) scale(1.14 1) rotate(-90)">-2.0</text>
<text class="cn" text-anchor="middle" transform="translate(941.5 1102.5) rotate(-90)">US</text>
<text class="tx" text-anchor="middle" x="1015.1" y="1234.2">0</text>
<text class="tx" text-anchor="middle" x="1143.4" y="1234.2">50</text>
<text class="tx" text-anchor="middle" x="1271.7" y="1234.2">100</text>
<text class="tx" text-anchor="middle" x="1400" y="1234.2">150</text>
<text class="tx" text-anchor="middle" x="1528.3" y="1234.2">200</text>
<text class="tx" text-anchor="middle" x="1656.6" y="1234.2">250</text>
<text class="doy" text-anchor="middle" x="1410" y="1262.3">DOY</text>
<polyline class="b" clip-path="url(#cUS)" points="1017.6,1106.2 1033.1,1105.7 1044.1,1108.4 1073.8,1108.4 1088.1,1104.6 1103.6,1105.1 1112.4,1107.3 1132.2,1107.3 1136.6,1106.2 1154.2,1106.2 1169.7,1102.9 1180.7,1102.4 1187.3,1104 1204.9,1104 1217,1107.3 1233.6,1107.3 1236.9,1106.2 1247.9,1106.2 1251.2,1107.7 1262.2,1107.7 1284.2,1111.7 1308.5,1115 1332.7,1120.5 1341.5,1120.5 1350.3,1119.2 1362.5,1127.1 1370.2,1127.1 1380,1126.5 1388.8,1128.2 1408.6,1128.2 1415.3,1129.3 1439.5,1129.3 1451.6,1126 1464.8,1130.4 1480.3,1127.8 1492.4,1132.6 1510,1132.6 1523.2,1127.1 1532,1128.2 1556.3,1128.2 1560.7,1127.1 1584.9,1127.1 1611.4,1120.5 1629,1120.5 1640,1117.9 1651,1121.6 1666.4,1121.6 1669.7,1120.5 1717.1,1120.5 1719.3,1121.6 1740.3,1121.6"/>
<polyline class="r" clip-path="url(#cUS)" points="1017.6,1119.6 1026.4,1119.6 1044.1,1120.5 1057.3,1122.7 1079.3,1123.2 1096.9,1123.2 1105.8,1121.6 1114.6,1123.8 1132.2,1125.4 1180.7,1125.4 1193.9,1121.6 1220.3,1121.6 1231.4,1122.7 1264.4,1121.6 1286.4,1123.8 1295.3,1126.7 1308.5,1129.3 1319.5,1132.6 1330.5,1133.7 1343.7,1133.7 1354.7,1136.4 1370.2,1140.3 1380,1143 1417.5,1143 1426.3,1144.3 1436.2,1143.6 1440.6,1131.5 1446.1,1109.5 1450.9,1093 1454.9,1105.1 1458.2,1120.5 1462.6,1133.7 1464.8,1144.7 1472.5,1146.9 1483.6,1148.1 1499,1146.9 1510,1144.3 1525.4,1140.3 1538.6,1143 1551.9,1139.9 1565.1,1138.6 1576.1,1132.6 1584.9,1131.1 1593.7,1134.2 1600.3,1130.4 1610.3,1126 1615.8,1111.7 1624.6,1089.7 1635.6,1074.7 1641.1,1077.5 1644.4,1089.7 1648.8,1105.1 1652.1,1120.5 1664.2,1124.9 1679.7,1126 1688.5,1128.9 1701.7,1129.3 1714.9,1127.1 1725.9,1127.1 1740.3,1124.9"/>
</g>
<g>
<rect x="739.5" y="1280.5" width="425.5" height="66.4" fill="#fff" stroke="#222" stroke-width="1.5"/>
<line x1="764.4" y1="1308.8" x2="821" y2="1308.8" stroke="#0000ff" stroke-width="3.6"/>
<line x1="965.5" y1="1310" x2="1013.6" y2="1310" stroke="#ff0000" stroke-width="3.6" stroke-dasharray="17.8 12.5"/>
<text class="lg" transform="translate(845.3 1324.4) scale(0.92 1)">2019</text>
<text class="lg" transform="translate(1047.2 1325) scale(0.92 1)">2020</text>
</g>
</g>
</svg>
</body>
</html>
